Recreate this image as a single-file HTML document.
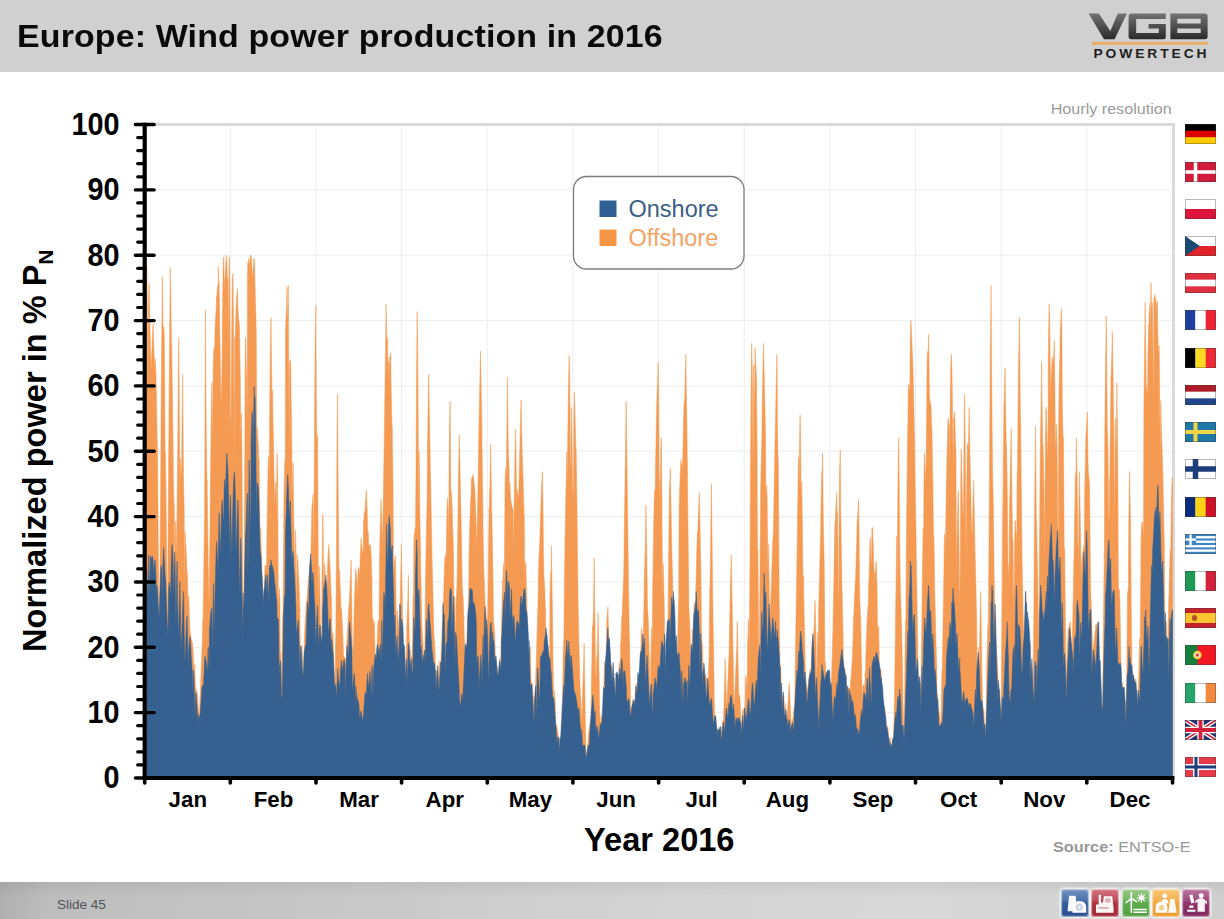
<!DOCTYPE html>
<html><head><meta charset="utf-8"><title>Europe: Wind power production in 2016</title>
<style>
html,body{margin:0;padding:0}
body{width:1224px;height:919px;position:relative;overflow:hidden;background:#fff;font-family:"Liberation Sans",sans-serif}
#hdr{position:absolute;left:0;top:0;width:1224px;height:71.5px;background:#d0d0d0}
#title{position:absolute;left:17px;top:19px;transform:scaleX(1.095);transform-origin:0 0;font-size:31px;font-weight:700;color:#0a0a0a;white-space:nowrap;line-height:36px;letter-spacing:0.12px}
#ftr{position:absolute;left:0;top:882px;width:1224px;height:37px;background:linear-gradient(180deg,rgba(0,0,0,.06) 0,rgba(0,0,0,0) 40%),linear-gradient(100deg,#aeaeae 0,#bdbdbd 4%,#c9c9c9 30%,#d4d4d4 55%,#d8d8d8 75%,#cfcfcf 100%)}
#slide{position:absolute;left:57px;top:897px;font-size:13.5px;color:#4e5658;line-height:16px}
svg text{font-family:"Liberation Sans",sans-serif}
.flag{display:block}
.ico{position:absolute;top:888.8px;width:28px;height:28px;border-radius:3.5px;box-shadow:0 0 0 1.2px rgba(255,255,255,.5) inset,0 0 2.5px 0.5px rgba(255,255,255,.95);overflow:hidden}
.ico i{position:absolute;left:0;top:0;width:28px;height:13px;background:linear-gradient(rgba(255,255,255,.28),rgba(255,255,255,.08))}
.ico svg{position:absolute;left:0;top:0}
</style></head><body>
<div id="hdr"></div>
<div id="title">Europe: Wind power production in 2016</div>
<svg id="logo" style="position:absolute;left:1085px;top:8px" width="130" height="58" viewBox="0 0 130 58">
<defs><linearGradient id="lg" x1="0" y1="0" x2="0" y2="1"><stop offset="0" stop-color="#727272"/><stop offset="1" stop-color="#2a2a2a"/></linearGradient></defs>
<path d="M3.6,5.6 H13.9 L25.3,23 L32.8,5.6 H41.9 L29.6,31.3 H19 Z" fill="url(#lg)"/>
<path d="M46.5,5.6 H80.8 V10.9 H51.2 V25 H73.8 V20.6 H63.6 V15.9 H80.8 V28.8 Q80.8,31.3 78.3,31.3 H46.5 Q43.6,31.3 43.6,28.5 V8.4 Q43.6,5.6 46.5,5.6 Z" fill="url(#lg)"/>
<path d="M85.4,5.6 H119.8 Q122.6,5.6 122.6,8.4 V28.5 Q122.6,31.3 119.8,31.3 H85.4 Z M92.3,10.8 V15.4 H115.7 V10.8 Z M92.3,20.6 V25.1 H115.7 V20.6 Z" fill="url(#lg)" fill-rule="evenodd"/>
<rect x="7" y="33.9" width="115.6" height="3" fill="#e9ae68"/>
<text x="8.5" y="50.2" font-size="12.4" font-weight="700" fill="#1e1e1e" letter-spacing="2.6" textLength="116" lengthAdjust="spacingAndGlyphs">POWERTECH</text>
</svg>
<svg id="chart" style="position:absolute;left:0;top:0" width="1224" height="919" viewBox="0 0 1224 919">
<line x1="230.3" y1="124.5" x2="230.3" y2="778.0" stroke="#ededed" stroke-width="1"/>
<line x1="316.0" y1="124.5" x2="316.0" y2="778.0" stroke="#ededed" stroke-width="1"/>
<line x1="401.6" y1="124.5" x2="401.6" y2="778.0" stroke="#ededed" stroke-width="1"/>
<line x1="487.3" y1="124.5" x2="487.3" y2="778.0" stroke="#ededed" stroke-width="1"/>
<line x1="572.9" y1="124.5" x2="572.9" y2="778.0" stroke="#ededed" stroke-width="1"/>
<line x1="658.6" y1="124.5" x2="658.6" y2="778.0" stroke="#ededed" stroke-width="1"/>
<line x1="744.2" y1="124.5" x2="744.2" y2="778.0" stroke="#ededed" stroke-width="1"/>
<line x1="829.9" y1="124.5" x2="829.9" y2="778.0" stroke="#ededed" stroke-width="1"/>
<line x1="915.5" y1="124.5" x2="915.5" y2="778.0" stroke="#ededed" stroke-width="1"/>
<line x1="1001.2" y1="124.5" x2="1001.2" y2="778.0" stroke="#ededed" stroke-width="1"/>
<line x1="1086.8" y1="124.5" x2="1086.8" y2="778.0" stroke="#ededed" stroke-width="1"/>
<line x1="144.7" y1="712.6" x2="1173.5" y2="712.6" stroke="#ededed" stroke-width="1"/>
<line x1="144.7" y1="647.3" x2="1173.5" y2="647.3" stroke="#ededed" stroke-width="1"/>
<line x1="144.7" y1="582.0" x2="1173.5" y2="582.0" stroke="#ededed" stroke-width="1"/>
<line x1="144.7" y1="516.6" x2="1173.5" y2="516.6" stroke="#ededed" stroke-width="1"/>
<line x1="144.7" y1="451.2" x2="1173.5" y2="451.2" stroke="#ededed" stroke-width="1"/>
<line x1="144.7" y1="385.9" x2="1173.5" y2="385.9" stroke="#ededed" stroke-width="1"/>
<line x1="144.7" y1="320.6" x2="1173.5" y2="320.6" stroke="#ededed" stroke-width="1"/>
<line x1="144.7" y1="255.2" x2="1173.5" y2="255.2" stroke="#ededed" stroke-width="1"/>
<line x1="144.7" y1="189.9" x2="1173.5" y2="189.9" stroke="#ededed" stroke-width="1"/>
<line x1="144.7" y1="124.5" x2="1175.0" y2="124.5" stroke="#d9d9d9" stroke-width="3"/>
<line x1="1173.5" y1="124.5" x2="1173.5" y2="778.0" stroke="#d9d9d9" stroke-width="3"/>
<defs><filter id="sf" x="0" y="0" width="1224" height="919" filterUnits="userSpaceOnUse"><feGaussianBlur stdDeviation="0.45"/></filter><clipPath id="cp"><rect x="144.7" y="124.5" width="1028.8" height="653.5"/></clipPath></defs>
<g clip-path="url(#cp)"><g filter="url(#sf)"><path d="M146.7,778.0L146.7,266.2L147.1,294.5L147.5,342.7L147.9,392.4L148.3,308.9L148.5,298.2L148.7,296.3L149.1,283.2L149.5,306.4L149.9,322.9L150.3,341.5L150.7,357.2L150.7,353.5L151.1,369.2L151.5,361.5L151.9,351.6L152.3,337.1L152.7,329.4L153.1,323.7L153.5,336.4L153.9,350.3L154.3,359.2L154.7,370.0L155.1,361.3L155.2,359.0L155.5,365.3L155.9,372.9L156.3,388.4L156.7,409.4L157.1,434.1L157.5,453.8L157.7,462.8L157.9,494.4L158.3,546.8L158.7,598.7L158.9,621.0L159.1,647.3L159.5,610.7L159.9,571.5L160.3,530.7L160.7,479.5L160.7,480.1L161.1,418.5L161.5,357.8L161.9,320.1L162.2,276.6L162.3,279.5L162.7,312.7L163.1,329.9L163.5,330.7L163.8,326.2L163.9,328.5L164.3,334.8L164.7,378.6L165.1,455.1L165.5,453.0L165.6,462.7L165.9,485.4L166.3,521.6L166.7,556.5L167.1,596.1L167.4,628.1L167.5,616.7L167.9,562.5L168.3,508.4L168.7,454.9L168.9,425.4L169.1,399.5L169.5,350.8L169.9,301.4L170.2,267.4L170.3,275.0L170.7,295.9L171.1,318.2L171.5,342.0L171.7,345.3L171.9,358.1L172.3,387.7L172.7,414.3L173.1,447.0L173.5,484.1L173.5,486.4L173.9,499.3L174.3,508.4L174.7,586.1L175.1,554.9L175.5,521.3L175.9,525.5L175.9,530.0L176.3,558.7L176.7,535.8L177.1,507.8L177.5,468.5L177.8,438.7L177.9,422.7L178.3,375.7L178.7,337.5L178.7,338.9L179.1,380.1L179.5,431.4L179.9,491.9L179.9,492.6L180.3,458.6L180.7,467.5L181.1,471.6L181.4,479.7L181.5,475.0L181.9,439.0L182.3,403.8L182.6,374.0L182.7,383.6L183.1,438.3L183.5,473.6L183.9,497.0L184.2,510.3L184.3,529.9L184.7,589.2L185.1,531.6L185.5,542.6L185.9,546.0L186.3,554.3L186.7,564.0L187.1,572.3L187.2,573.7L187.5,576.8L187.9,603.4L188.3,598.4L188.7,595.5L189.1,606.8L189.5,617.7L189.9,628.0L190.3,635.9L190.3,636.8L190.7,634.6L191.1,638.7L191.5,639.1L191.9,640.9L192.3,642.7L192.7,645.0L193.1,652.2L193.5,657.8L193.9,666.2L194.3,681.0L194.7,664.8L194.8,666.8L195.1,676.4L195.5,687.8L195.9,698.2L196.3,688.9L196.7,691.7L197.1,693.2L197.5,695.2L197.9,703.8L198.3,706.8L198.7,711.2L199.1,716.8L199.4,720.5L199.5,718.5L199.9,700.8L200.3,693.0L200.7,684.4L201.1,671.0L201.5,661.6L201.9,651.7L202.3,640.4L202.4,638.6L202.7,620.8L203.1,618.3L203.5,591.1L203.9,561.7L204.3,532.7L204.6,515.4L204.7,491.7L205.1,401.7L205.5,310.1L205.5,311.6L205.9,386.6L206.3,436.9L206.7,466.8L207.0,483.2L207.1,480.3L207.5,508.4L207.9,537.4L208.3,567.3L208.7,592.4L208.8,598.6L209.1,597.5L209.5,567.2L209.9,535.9L210.3,497.2L210.7,461.3L210.7,458.7L211.1,428.0L211.5,400.1L211.9,382.0L212.3,407.9L212.5,425.5L212.7,440.6L213.1,374.3L213.5,357.3L213.9,347.1L214.3,349.0L214.6,352.8L214.7,346.7L215.1,328.1L215.5,317.4L215.9,313.3L216.3,306.8L216.7,295.4L216.8,300.8L217.1,294.5L217.5,285.5L217.9,298.0L218.3,265.9L218.3,267.1L218.7,283.1L219.1,282.5L219.5,305.3L219.8,335.0L219.9,336.9L220.3,360.7L220.7,381.4L221.1,401.7L221.5,400.8L221.6,391.5L221.9,374.2L222.3,336.3L222.7,296.5L223.1,271.3L223.5,257.6L223.8,256.8L223.9,262.0L224.3,293.3L224.7,278.1L225.0,282.4L225.1,278.5L225.5,269.8L225.9,261.1L226.2,255.2L226.3,256.5L226.7,261.1L227.1,269.2L227.5,279.0L227.7,285.7L227.9,279.3L228.3,350.5L228.7,292.6L229.1,262.1L229.2,256.8L229.5,260.3L229.9,297.8L230.3,409.7L230.7,428.2L231.1,410.6L231.1,406.8L231.5,356.1L231.9,309.9L232.3,279.2L232.7,275.7L232.9,273.5L233.1,284.1L233.5,322.0L233.9,383.4L234.3,467.5L234.7,337.4L235.0,339.6L235.1,340.3L235.5,328.4L235.9,314.8L236.3,305.0L236.7,295.7L237.1,292.3L237.5,288.7L237.5,289.6L237.9,306.1L238.3,315.3L238.7,319.4L239.1,322.8L239.3,323.3L239.5,329.7L239.9,353.2L240.3,379.2L240.7,434.8L241.1,425.6L241.4,413.3L241.5,415.8L241.9,448.0L242.3,507.2L242.7,568.1L243.0,606.5L243.1,617.2L243.5,652.5L243.9,650.4L243.9,644.1L244.3,564.1L244.7,471.6L245.1,372.9L245.1,370.2L245.5,337.5L245.9,345.4L246.3,368.2L246.6,383.5L246.7,388.6L247.1,425.9L247.5,274.1L247.9,261.7L248.3,263.2L248.4,267.2L248.7,258.3L249.1,262.3L249.5,264.7L249.9,262.5L250.3,257.2L250.6,255.2L250.7,255.4L251.1,255.7L251.5,259.9L251.9,268.2L252.3,275.2L252.7,276.7L252.7,275.1L253.1,269.5L253.5,265.3L253.9,258.1L254.3,259.7L254.7,265.9L254.8,276.9L255.1,286.5L255.5,304.4L255.9,313.3L256.3,336.1L256.7,425.5L256.7,426.3L257.1,427.4L257.5,431.7L257.9,439.7L258.3,443.9L258.7,458.1L258.8,458.9L259.1,460.0L259.5,494.5L259.9,530.3L260.3,558.7L260.7,527.6L261.1,543.5L261.5,559.1L261.8,571.7L261.9,572.3L262.3,584.1L262.7,589.3L263.1,610.3L263.4,610.1L263.5,609.7L263.9,597.5L264.3,587.1L264.7,573.6L265.1,565.1L265.5,567.6L265.9,565.5L266.3,569.3L266.4,570.7L266.7,550.8L267.1,524.6L267.5,500.3L267.9,475.3L268.3,461.2L268.7,455.8L269.1,480.5L269.5,441.4L269.5,439.0L269.9,391.1L270.3,353.1L270.7,333.1L271.0,317.7L271.1,325.7L271.5,356.6L271.9,393.7L272.3,436.3L272.5,390.3L272.7,397.5L273.1,421.6L273.5,444.2L273.9,464.7L274.3,485.5L274.6,505.6L274.7,503.3L275.1,493.9L275.5,489.5L275.9,481.1L276.3,520.3L276.7,476.1L277.1,453.2L277.1,455.1L277.5,474.2L277.9,524.4L278.3,594.7L278.7,605.4L279.1,595.9L279.5,589.4L279.5,588.6L279.9,600.6L280.3,658.6L280.7,652.5L281.1,666.4L281.5,682.2L281.6,686.5L281.9,663.9L282.3,632.1L282.7,615.8L283.1,609.2L283.5,551.8L283.8,512.2L283.9,503.2L284.3,481.4L284.7,464.2L285.1,458.6L285.3,453.9L285.5,334.0L285.9,320.1L286.3,310.2L286.7,297.4L287.1,287.8L287.1,287.2L287.5,317.5L287.9,316.3L288.3,285.5L288.7,351.4L289.1,426.5L289.3,454.0L289.5,362.0L289.9,361.2L290.3,359.6L290.7,366.6L291.1,396.5L291.4,416.5L291.5,425.6L291.9,450.9L292.3,497.6L292.7,480.0L293.1,462.5L293.5,495.4L293.8,518.8L293.9,524.1L294.3,546.4L294.7,566.3L295.1,574.9L295.5,529.8L295.9,538.0L296.3,574.4L296.7,602.5L296.9,615.2L297.1,554.2L297.5,558.9L297.9,561.4L298.3,570.5L298.7,579.6L299.1,586.7L299.5,600.1L299.9,611.5L299.9,609.0L300.3,663.2L300.7,657.0L301.1,651.8L301.5,646.4L301.9,644.9L302.3,651.7L302.7,668.7L303.0,678.9L303.1,680.1L303.5,683.2L303.9,685.6L304.3,640.0L304.7,631.6L305.1,622.9L305.5,615.6L305.9,608.6L306.0,607.4L306.3,602.8L306.7,599.9L307.1,598.3L307.5,591.1L307.9,586.4L308.3,582.2L308.7,576.7L309.1,574.3L309.5,569.5L309.9,564.5L310.3,578.8L310.6,573.2L310.7,562.7L311.1,545.5L311.5,526.6L311.9,505.6L312.3,503.9L312.7,500.0L313.1,494.4L313.5,566.7L313.6,555.9L313.9,523.8L314.3,466.7L314.7,402.9L315.1,350.8L315.5,328.0L315.8,305.5L315.9,324.8L316.3,395.3L316.7,432.5L317.1,443.0L317.3,445.1L317.5,435.4L317.9,498.9L318.3,563.7L318.7,603.9L319.1,587.1L319.1,587.2L319.5,566.5L319.9,587.0L320.3,616.3L320.7,647.7L321.1,673.4L321.2,680.7L321.5,661.9L321.9,589.5L322.3,552.9L322.7,518.8L322.8,514.1L323.1,525.3L323.5,569.9L323.9,580.5L324.3,579.0L324.7,563.6L325.1,568.8L325.5,593.5L325.8,609.0L325.9,614.4L326.3,625.2L326.7,640.6L327.1,587.1L327.5,570.0L327.9,557.9L328.3,550.6L328.7,547.8L328.9,544.6L329.1,549.7L329.5,557.8L329.9,566.1L330.3,572.3L330.7,584.0L331.1,592.8L331.5,599.4L331.9,630.2L331.9,629.4L332.3,632.7L332.7,632.3L333.1,637.3L333.5,649.6L333.9,663.0L334.3,677.9L334.7,691.3L334.9,697.4L335.1,682.7L335.5,648.9L335.9,625.8L336.3,565.8L336.5,541.0L336.7,501.3L337.1,435.3L337.4,393.8L337.5,406.2L337.9,448.1L338.3,499.4L338.6,542.5L338.7,549.6L339.1,591.2L339.5,569.8L339.9,578.3L340.3,590.3L340.7,599.9L341.0,611.9L341.1,608.1L341.5,609.9L341.9,614.1L342.3,623.4L342.7,632.7L343.1,644.3L343.5,655.1L343.9,656.5L344.3,657.2L344.7,658.2L344.7,657.0L345.0,658.6L345.1,659.6L345.5,658.5L345.9,662.2L346.3,662.9L346.7,643.8L347.1,638.2L347.5,631.3L347.9,624.3L348.0,622.0L348.3,616.4L348.7,610.0L349.1,603.5L349.5,599.1L349.9,588.8L350.3,579.0L350.7,570.0L351.1,559.8L351.1,560.4L351.5,587.0L351.9,614.2L352.3,642.1L352.6,663.2L352.7,660.8L353.1,648.8L353.5,642.8L353.9,623.3L354.3,607.8L354.7,594.1L355.1,583.3L355.5,573.1L355.7,569.0L355.9,569.4L356.3,572.4L356.7,576.8L357.1,581.9L357.5,594.1L357.8,586.3L357.9,580.7L358.3,567.4L358.7,569.0L359.1,570.2L359.5,573.9L359.9,568.1L360.2,555.4L360.3,555.4L360.7,547.5L361.1,538.2L361.5,543.0L361.9,546.4L362.3,553.2L362.7,551.1L363.1,551.9L363.3,548.3L363.5,522.6L363.9,518.9L364.3,512.3L364.7,514.3L365.1,509.3L365.5,500.4L365.9,496.2L366.3,490.1L366.3,489.8L366.7,499.9L367.1,509.2L367.5,521.1L367.8,533.2L367.9,531.3L368.3,533.2L368.7,544.8L369.1,544.9L369.5,546.2L369.9,547.2L370.3,544.1L370.7,547.8L370.9,552.3L371.1,553.9L371.5,565.2L371.9,578.3L372.3,619.0L372.7,617.8L373.1,619.2L373.5,623.4L373.9,625.6L373.9,623.5L374.3,621.4L374.7,637.5L375.1,654.3L375.5,664.2L375.9,659.7L376.3,655.2L376.7,654.7L377.0,654.2L377.1,648.0L377.5,631.7L377.9,622.8L378.3,620.7L378.7,620.2L379.1,621.4L379.1,618.8L379.5,560.1L379.9,542.2L380.3,523.7L380.7,508.4L380.9,498.9L381.1,503.4L381.5,514.8L381.9,526.1L382.3,541.2L382.5,547.1L382.7,532.9L383.1,513.6L383.5,486.5L383.9,460.9L384.0,457.5L384.3,433.2L384.7,407.2L385.1,379.4L385.5,352.4L385.9,321.6L386.1,304.0L386.3,314.9L386.7,332.6L387.1,342.4L387.5,338.0L387.6,348.5L387.9,358.0L388.3,385.2L388.7,361.7L389.1,366.7L389.2,362.8L389.5,356.9L389.9,358.9L390.3,356.2L390.7,352.7L390.7,353.6L391.1,383.5L391.5,405.2L391.9,420.7L392.3,430.0L392.5,448.9L392.7,459.9L393.1,494.3L393.5,578.5L393.9,572.0L394.3,561.1L394.3,562.4L394.7,560.9L395.1,556.2L395.5,555.5L395.9,590.9L396.3,621.0L396.7,649.2L396.8,655.1L397.1,610.5L397.5,614.0L397.9,617.2L398.3,623.0L398.7,628.9L399.1,634.2L399.2,637.4L399.5,645.0L399.9,618.3L400.3,595.0L400.7,575.0L401.1,558.7L401.4,544.6L401.5,556.9L401.9,578.6L402.3,595.9L402.7,627.6L402.9,644.4L403.1,655.3L403.5,661.8L403.9,655.4L404.3,653.0L404.7,646.9L405.1,662.8L405.5,681.3L405.9,676.9L405.9,677.4L406.3,657.1L406.7,635.7L407.1,618.0L407.5,609.1L407.9,596.0L408.3,578.0L408.4,575.1L408.7,599.8L409.1,628.2L409.5,645.2L409.6,649.0L409.9,649.1L410.3,649.7L410.7,675.2L411.1,655.2L411.5,658.4L411.9,662.9L412.0,664.4L412.3,647.8L412.7,625.4L413.1,597.6L413.5,594.1L413.9,541.2L414.3,534.3L414.4,536.6L414.7,532.8L415.1,527.8L415.5,530.0L415.9,484.0L416.0,473.2L416.3,415.4L416.7,359.7L417.1,318.4L417.2,311.6L417.5,333.2L417.9,377.9L418.3,438.4L418.4,459.0L418.7,516.5L419.1,451.6L419.5,483.1L419.9,515.5L419.9,516.8L420.3,536.0L420.7,565.4L421.1,588.4L421.5,605.3L421.8,622.7L421.9,625.4L422.3,632.7L422.7,639.0L423.1,644.6L423.5,683.4L423.9,668.8L424.2,663.7L424.3,660.0L424.7,662.0L425.1,620.7L425.5,585.3L425.9,556.7L426.3,537.7L426.6,524.3L426.7,520.0L427.1,500.1L427.5,449.0L427.9,423.8L427.9,420.2L428.3,398.8L428.7,377.5L428.8,374.0L429.1,395.6L429.5,418.7L429.9,443.2L430.0,445.0L430.3,467.1L430.7,483.3L431.1,506.4L431.5,528.5L431.8,542.0L431.9,549.7L432.3,566.9L432.7,582.2L433.1,601.1L433.5,618.2L433.9,630.3L433.9,633.9L434.3,639.1L434.7,646.0L435.1,652.5L435.5,686.6L435.9,678.2L436.3,673.5L436.4,670.4L436.7,670.6L437.1,681.8L437.5,686.0L437.9,681.5L438.3,673.7L438.7,667.6L439.1,660.9L439.5,667.5L439.9,679.9L440.3,663.9L440.7,661.6L440.9,660.5L441.1,655.5L441.5,646.4L441.9,633.2L442.3,622.1L442.7,613.9L443.1,602.8L443.1,601.1L443.5,601.4L443.9,587.0L444.3,572.8L444.7,559.7L445.1,554.9L445.5,555.5L445.5,555.4L445.9,564.4L446.3,547.0L446.7,525.8L447.1,505.1L447.5,497.8L447.9,508.6L448.0,508.0L448.3,515.1L448.7,545.4L449.1,468.7L449.5,424.7L449.9,413.0L450.1,401.4L450.3,421.9L450.7,470.9L451.1,525.6L451.5,491.9L451.6,498.3L451.9,502.1L452.3,507.7L452.7,527.3L453.1,538.7L453.4,548.1L453.5,555.2L453.9,612.5L454.3,605.7L454.7,597.2L455.1,624.2L455.3,638.7L455.5,642.7L455.9,607.9L456.3,597.2L456.7,590.9L457.1,580.1L457.1,578.2L457.5,554.0L457.9,523.3L458.3,490.1L458.3,485.8L458.7,464.5L459.1,442.3L459.2,434.9L459.5,447.7L459.9,464.0L460.3,482.1L460.4,488.0L460.7,503.5L461.1,518.1L461.5,541.1L461.9,563.4L462.3,592.1L462.3,588.2L462.7,593.2L463.1,595.5L463.5,608.4L463.9,621.8L464.3,636.7L464.4,639.8L464.7,641.9L465.1,649.5L465.5,661.4L465.9,656.9L466.3,654.5L466.7,650.2L466.8,645.1L467.1,634.7L467.5,623.5L467.9,612.8L468.3,602.3L468.7,591.8L469.1,551.8L469.3,542.7L469.5,535.0L469.9,521.0L470.3,509.7L470.7,500.7L471.1,494.2L471.4,479.3L471.5,479.1L471.9,478.3L472.3,476.7L472.7,475.9L472.9,474.5L473.1,475.4L473.5,476.8L473.9,480.8L474.3,486.2L474.7,488.7L475.1,492.4L475.1,495.9L475.5,509.0L475.9,517.3L476.3,530.1L476.7,542.4L476.9,546.2L477.1,533.9L477.5,512.1L477.9,490.0L478.3,468.3L478.4,461.4L478.7,439.7L479.1,419.6L479.5,399.1L479.6,391.9L479.9,379.8L480.3,361.5L480.5,351.2L480.7,359.9L481.1,383.4L481.5,405.8L481.8,420.5L481.9,430.2L482.3,465.4L482.7,491.3L483.1,529.2L483.3,542.7L483.5,555.0L483.9,572.0L484.3,581.3L484.7,593.3L485.1,605.5L485.1,604.3L485.5,609.3L485.9,609.6L486.3,617.8L486.7,627.2L487.1,625.5L487.5,624.0L487.6,626.0L487.9,598.9L488.3,569.5L488.7,536.1L489.1,509.1L489.1,511.7L489.5,499.9L489.9,484.7L490.3,463.1L490.6,444.1L490.7,450.0L491.1,472.9L491.5,496.8L491.8,517.3L491.9,518.5L492.3,537.7L492.7,562.5L493.1,583.9L493.5,617.8L493.6,622.6L493.9,623.4L494.3,627.7L494.7,634.9L495.1,649.0L495.5,661.4L495.8,666.1L495.9,669.7L496.3,664.0L496.7,663.5L497.1,666.1L497.5,669.9L497.9,700.1L498.3,692.9L498.7,682.7L499.1,672.6L499.5,665.9L499.9,658.0L500.3,675.5L500.3,676.8L500.7,682.5L501.1,646.6L501.5,627.8L501.9,607.7L502.3,588.4L502.7,578.8L502.8,578.9L503.1,573.0L503.5,563.7L503.9,614.3L504.3,573.8L504.7,528.5L504.9,504.6L505.1,481.4L505.5,468.2L505.9,477.8L506.3,471.5L506.4,465.5L506.7,448.7L507.1,410.6L507.4,377.1L507.5,389.7L507.9,420.0L508.3,445.5L508.6,461.4L508.7,459.1L509.1,471.0L509.5,493.6L509.9,482.6L510.3,493.0L510.7,499.7L511.0,501.8L511.1,501.7L511.5,503.7L511.9,505.4L512.3,508.5L512.7,507.6L513.1,511.8L513.4,549.5L513.5,547.8L513.9,524.6L514.3,497.1L514.7,475.8L514.7,473.4L515.1,450.3L515.5,432.0L515.6,428.9L515.9,444.9L516.3,472.6L516.7,503.8L516.8,511.6L517.1,489.5L517.5,491.8L517.9,495.2L518.3,496.2L518.6,499.3L518.7,494.0L519.1,479.3L519.5,462.1L519.9,446.5L520.1,437.8L520.3,428.9L520.7,414.0L521.1,399.9L521.1,401.6L521.5,418.6L521.9,437.8L522.3,457.9L522.3,456.8L522.7,467.2L523.1,477.1L523.5,496.4L523.9,506.9L524.1,514.2L524.3,518.7L524.7,577.5L525.1,567.2L525.5,561.6L525.9,563.8L526.2,578.5L526.3,583.3L526.7,598.5L527.1,617.4L527.5,630.0L527.9,641.2L528.3,674.7L528.7,667.7L528.7,666.8L529.1,660.8L529.5,655.8L529.9,649.3L530.3,646.8L530.7,668.6L531.1,686.6L531.4,699.5L531.5,702.9L531.9,682.0L532.3,686.3L532.7,691.8L533.1,695.6L533.5,698.8L533.9,707.6L533.9,706.1L534.3,702.5L534.7,694.9L535.1,689.6L535.5,685.9L535.9,670.4L536.3,662.0L536.3,661.9L536.7,645.7L537.1,632.4L537.5,620.2L537.9,607.6L538.3,582.0L538.4,574.7L538.7,563.7L539.1,553.0L539.5,547.9L539.9,537.4L540.3,523.2L540.6,514.3L540.7,510.2L541.1,498.5L541.5,488.3L541.9,481.1L542.3,473.3L542.4,471.5L542.7,489.4L543.1,512.5L543.5,557.0L543.9,573.6L543.9,574.0L544.3,582.5L544.7,588.3L545.1,600.7L545.5,611.7L545.9,637.5L546.0,649.4L546.3,658.7L546.7,640.1L547.1,644.9L547.5,643.9L547.9,645.9L548.3,650.8L548.7,653.2L549.1,656.6L549.5,659.8L549.7,661.8L549.9,619.4L550.0,594.5L550.3,585.5L550.7,572.4L551.1,574.2L551.5,547.0L551.5,545.7L551.9,577.4L552.3,602.7L552.7,627.7L553.0,661.9L553.1,666.3L553.5,685.4L553.9,702.3L554.3,690.6L554.7,697.5L555.1,701.1L555.5,715.5L555.9,729.4L556.1,725.6L556.3,726.6L556.7,725.1L557.1,728.0L557.5,730.3L557.9,731.6L558.3,737.1L558.5,738.0L558.7,740.2L559.1,738.2L559.5,749.8L559.9,746.5L560.3,743.8L560.7,742.7L560.7,740.9L561.1,735.3L561.5,731.4L561.9,721.3L562.3,702.6L562.7,689.0L562.8,684.0L563.1,658.1L563.5,645.8L563.9,636.0L564.3,592.4L564.6,566.0L564.7,564.9L565.1,535.7L565.5,514.3L565.9,492.0L566.3,476.1L566.7,457.6L566.8,452.2L567.1,484.0L567.5,457.6L567.9,425.4L568.3,397.1L568.7,374.0L569.1,358.5L569.2,355.6L569.5,368.8L569.9,397.4L570.3,467.7L570.7,465.6L571.1,438.3L571.3,423.2L571.5,407.5L571.9,435.2L572.3,463.6L572.7,491.0L573.1,496.4L573.1,494.4L573.5,481.3L573.9,408.4L574.3,393.9L574.4,392.2L574.7,401.9L575.1,417.6L575.5,435.0L575.9,445.9L576.2,450.4L576.3,458.3L576.7,484.9L577.1,516.7L577.5,551.5L577.9,589.0L578.0,599.4L578.3,612.7L578.7,632.5L579.1,650.0L579.5,667.5L579.9,683.2L579.9,683.3L580.3,691.7L580.7,699.5L581.1,705.1L581.5,714.7L581.9,718.4L582.0,718.3L582.3,704.9L582.7,689.7L583.1,678.6L583.5,667.3L583.9,653.5L584.1,643.2L584.3,656.6L584.7,682.1L585.1,706.7L585.5,729.3L585.9,751.7L585.9,754.1L586.3,754.7L586.7,751.5L587.1,750.6L587.5,747.2L587.9,742.6L588.1,741.8L588.3,737.1L588.7,732.2L589.1,729.7L589.5,727.5L589.9,723.9L590.2,724.8L590.3,721.2L590.7,724.2L591.1,704.8L591.5,682.1L591.9,658.4L592.3,630.4L592.6,626.4L592.7,628.6L593.1,621.7L593.5,606.6L593.9,581.5L594.2,557.9L594.3,569.0L594.7,602.6L595.1,635.1L595.5,666.1L595.7,683.7L595.9,676.7L596.3,670.9L596.7,660.1L597.1,652.9L597.2,651.7L597.5,640.3L597.9,623.3L598.1,612.7L598.3,625.1L598.7,651.8L599.1,675.3L599.5,702.6L599.6,712.8L599.9,713.5L600.3,731.2L600.7,723.7L601.1,717.6L601.5,715.1L601.8,719.2L601.9,722.1L602.3,722.5L602.7,722.8L603.1,708.9L603.5,694.9L603.9,684.2L604.2,673.7L604.3,668.9L604.7,661.2L605.1,662.6L605.5,664.0L605.9,665.3L606.3,643.5L606.4,640.6L606.7,623.2L607.1,617.5L607.5,613.3L607.9,606.6L607.9,607.4L608.3,620.9L608.7,635.7L609.1,638.3L609.5,643.8L609.7,651.9L609.9,652.8L610.3,667.2L610.7,679.2L611.1,664.7L611.5,664.5L611.9,666.4L612.3,670.7L612.4,673.4L612.7,674.9L613.1,711.3L613.5,699.1L613.9,690.4L614.3,678.7L614.7,677.6L615.1,685.4L615.5,694.6L615.5,694.4L615.9,700.4L616.3,708.7L616.7,717.2L617.1,689.5L617.5,687.9L617.9,686.1L618.3,683.6L618.5,680.9L618.7,674.4L619.1,665.3L619.5,663.5L619.9,660.7L620.3,660.7L620.7,643.7L620.7,645.6L621.1,636.2L621.5,623.9L621.9,615.6L622.2,613.7L622.3,609.7L622.7,599.5L623.1,590.1L623.5,578.3L623.7,575.2L623.9,563.3L624.3,526.7L624.7,502.7L625.1,476.0L625.2,469.7L625.5,451.5L625.9,420.3L626.1,401.3L626.3,412.8L626.7,442.0L627.1,470.1L627.1,469.7L627.5,504.2L627.9,535.2L628.3,565.1L628.6,591.5L628.7,594.6L629.1,620.7L629.5,641.8L629.9,665.6L630.3,685.0L630.7,709.8L630.7,711.2L631.1,708.1L631.5,706.4L631.9,729.7L632.3,714.0L632.7,698.8L633.1,703.4L633.5,709.8L633.8,713.2L633.9,714.6L634.3,721.6L634.7,708.0L635.1,699.0L635.5,689.9L635.9,687.1L636.3,688.5L636.7,684.6L636.8,682.8L637.1,687.1L637.5,693.7L637.9,700.3L638.3,710.3L638.7,714.9L638.9,721.7L639.1,717.0L639.5,698.9L639.9,685.6L640.3,669.0L640.7,657.0L641.1,639.2L641.4,627.9L641.5,628.6L641.9,631.7L642.3,635.0L642.7,643.4L643.1,643.4L643.2,643.8L643.5,626.6L643.9,606.5L644.3,581.1L644.7,567.4L644.7,569.3L645.1,552.4L645.5,532.1L645.9,507.9L645.9,504.9L646.3,525.8L646.7,549.5L647.1,579.3L647.5,606.9L647.5,607.9L647.9,611.8L648.3,620.6L648.7,633.5L649.1,648.2L649.5,663.6L649.9,700.7L649.9,701.8L650.3,689.2L650.7,667.4L651.1,648.7L651.5,627.4L651.9,635.8L652.0,640.1L652.3,641.0L652.7,587.5L653.1,564.9L653.5,533.8L653.9,514.0L654.2,498.1L654.3,498.0L654.7,489.9L655.1,493.8L655.5,468.1L655.9,447.5L656.0,441.6L656.3,425.0L656.7,406.9L657.1,394.5L657.5,385.6L657.9,372.1L658.1,361.7L658.3,370.5L658.7,394.5L659.1,467.3L659.5,490.4L659.7,497.1L659.9,488.6L660.3,473.8L660.7,453.1L661.1,437.5L661.2,440.5L661.5,445.1L661.9,502.8L662.3,551.9L662.7,601.2L662.7,600.8L663.1,563.5L663.5,575.1L663.9,591.8L664.3,606.7L664.5,625.6L664.7,636.2L665.1,664.5L665.5,685.5L665.9,693.5L666.3,708.4L666.4,711.9L666.7,689.5L667.1,669.0L667.5,648.5L667.9,630.1L668.2,601.8L668.3,592.8L668.7,552.1L669.1,518.0L669.4,490.7L669.5,487.7L669.9,478.6L670.3,468.8L670.3,468.3L670.7,490.8L671.1,509.5L671.5,533.8L671.5,536.2L671.9,551.6L672.3,569.3L672.7,582.5L673.1,615.1L673.4,613.2L673.5,616.0L673.9,632.1L674.3,645.5L674.7,670.9L675.1,696.5L675.5,720.7L675.5,719.2L675.9,712.6L676.3,704.9L676.7,683.5L677.1,662.9L677.3,657.8L677.5,648.0L677.9,629.9L678.3,611.4L678.7,598.4L679.1,511.2L679.2,505.3L679.5,494.3L679.9,482.9L680.3,473.0L680.7,465.5L681.0,459.6L681.1,465.0L681.5,464.2L681.9,463.3L682.3,470.5L682.7,460.1L682.8,456.5L683.1,441.8L683.5,421.5L683.9,408.2L684.3,401.8L684.3,406.6L684.7,397.2L685.1,385.0L685.5,368.5L685.9,354.1L685.9,358.1L686.3,387.7L686.7,412.9L687.1,434.9L687.1,440.3L687.5,474.4L687.9,517.6L688.3,551.0L688.7,587.4L688.9,608.0L689.1,610.7L689.5,619.7L689.9,628.6L690.3,642.7L690.7,663.3L690.7,664.4L691.1,696.9L691.5,676.2L691.9,654.5L692.3,629.4L692.7,648.9L693.1,631.6L693.2,631.8L693.5,622.7L693.9,611.3L694.3,602.4L694.7,606.6L695.1,605.9L695.5,607.8L695.6,607.4L695.9,585.8L696.3,571.6L696.7,552.9L697.1,540.3L697.4,532.3L697.5,536.4L697.9,527.2L698.3,517.2L698.7,506.8L699.1,496.7L699.3,492.7L699.5,504.6L699.9,521.9L700.3,541.5L700.7,562.9L700.8,565.0L701.1,589.2L701.5,635.3L701.9,641.2L702.3,644.6L702.7,658.2L702.9,673.1L703.1,675.4L703.5,684.8L703.9,691.2L704.3,697.4L704.7,674.9L705.1,676.2L705.5,673.9L705.9,679.4L706.0,677.7L706.3,678.8L706.7,677.2L707.1,695.2L707.5,690.7L707.9,687.2L708.3,679.4L708.4,680.0L708.7,666.8L709.1,657.0L709.5,615.4L709.9,589.4L709.9,591.0L710.3,565.6L710.7,537.7L711.1,508.1L711.4,483.6L711.5,489.1L711.9,524.3L712.3,558.9L712.7,591.6L712.7,593.2L713.1,621.2L713.5,646.0L713.9,671.8L714.3,702.3L714.5,714.0L714.7,714.6L715.1,716.3L715.5,717.7L715.9,720.5L716.3,725.1L716.7,725.8L717.1,727.7L717.5,732.0L717.5,732.6L717.9,732.6L718.3,732.2L718.7,732.9L719.1,730.5L719.5,732.2L719.9,737.3L720.3,731.0L720.6,727.1L720.7,726.7L721.1,729.0L721.5,731.3L721.9,735.6L722.3,723.2L722.7,721.8L723.1,720.5L723.5,719.7L723.6,720.0L723.9,709.2L724.3,692.9L724.7,677.6L725.1,660.3L725.1,658.4L725.5,670.8L725.9,684.5L726.3,698.2L726.7,710.8L726.7,708.0L727.1,700.4L727.5,687.6L727.9,679.8L728.3,667.6L728.7,662.3L729.1,655.0L729.1,655.8L729.5,633.2L729.9,612.0L730.3,591.5L730.3,588.2L730.7,574.9L731.1,559.7L731.2,554.8L731.5,568.9L731.9,590.3L732.3,611.6L732.5,620.6L732.7,636.1L733.1,655.9L733.5,675.7L733.9,696.1L734.3,711.2L734.3,710.1L734.7,699.6L735.1,687.4L735.5,677.0L735.9,667.6L736.3,659.2L736.4,653.3L736.7,649.5L737.1,629.2L737.3,621.8L737.5,629.8L737.9,652.0L738.3,674.1L738.7,693.0L738.9,696.4L739.1,696.7L739.5,695.1L739.9,695.9L740.3,705.8L740.7,719.4L741.1,728.1L741.3,731.6L741.5,735.3L741.9,728.2L742.3,719.3L742.7,709.4L743.1,709.0L743.5,714.5L743.7,718.1L743.9,718.8L744.3,720.9L744.7,722.7L745.1,703.9L745.5,678.2L745.9,676.6L745.9,675.6L746.3,679.3L746.7,684.6L747.1,691.3L747.5,650.6L747.9,634.7L748.0,631.9L748.3,620.1L748.7,619.2L749.1,658.8L749.2,655.8L749.5,621.9L749.9,571.2L750.3,501.9L750.4,476.7L750.7,436.4L751.1,389.2L751.5,353.5L751.6,343.4L751.9,349.5L752.3,375.4L752.7,420.3L753.1,484.3L753.5,364.4L753.5,365.2L753.9,377.9L754.3,395.0L754.7,409.0L754.7,406.3L755.0,347.7L755.1,349.7L755.5,358.0L755.9,366.5L756.3,372.6L756.5,379.2L756.7,401.0L757.1,445.2L757.5,558.7L757.9,550.2L758.0,561.7L758.3,595.6L758.7,641.1L759.1,680.5L759.3,695.0L759.5,632.3L759.9,583.4L760.3,530.7L760.5,507.4L760.7,487.1L761.1,468.7L761.5,453.5L761.9,435.4L762.0,431.8L762.3,401.0L762.7,381.5L763.1,362.5L763.5,344.7L763.5,343.4L763.9,359.7L764.3,378.0L764.7,397.6L765.1,412.3L765.1,415.7L765.5,432.5L765.9,500.4L766.3,488.9L766.6,486.7L766.7,485.5L767.1,495.7L767.5,533.1L767.9,569.4L768.3,576.1L768.4,568.3L768.7,544.3L769.1,578.0L769.5,611.9L769.9,644.5L770.2,615.5L770.3,612.7L770.7,601.9L771.1,591.7L771.5,581.2L771.9,566.6L772.1,562.3L772.3,555.3L772.7,542.7L773.1,537.0L773.5,530.3L773.9,502.4L773.9,499.6L774.3,480.4L774.7,459.2L775.1,440.3L775.5,418.5L775.7,411.1L775.9,399.0L776.3,382.9L776.7,365.0L776.9,354.1L777.1,366.4L777.5,430.0L777.9,450.8L778.1,455.6L778.3,464.1L778.7,522.2L779.1,587.8L779.4,624.9L779.5,636.9L779.9,665.2L780.3,665.0L780.7,666.1L781.1,678.2L781.2,685.4L781.5,693.9L781.9,704.3L782.3,697.7L782.7,695.5L783.1,694.4L783.5,694.9L783.9,702.2L783.9,703.4L784.3,706.7L784.7,711.9L785.1,721.3L785.5,703.4L785.9,713.8L786.3,725.1L786.7,736.0L787.0,717.5L787.1,715.6L787.5,710.6L787.9,704.6L788.3,697.7L788.7,690.6L789.1,683.0L789.1,682.8L789.5,689.5L789.9,696.9L790.3,706.5L790.7,714.3L791.1,721.5L791.5,728.8L791.6,729.6L791.9,726.3L792.3,724.4L792.7,718.9L793.1,717.8L793.5,714.1L793.9,709.3L794.3,708.0L794.6,706.0L794.7,700.4L795.1,674.4L795.5,649.4L795.9,622.0L796.3,598.0L796.4,593.4L796.7,575.6L797.1,547.4L797.5,519.8L797.9,496.1L798.3,466.6L798.3,467.0L798.7,456.8L799.1,485.9L799.5,447.2L799.9,422.0L800.1,415.0L800.3,422.8L800.7,449.5L801.1,492.7L801.5,496.0L801.9,481.4L801.9,487.9L802.3,518.0L802.7,550.6L803.1,588.8L803.5,575.5L803.7,592.6L803.9,599.1L804.3,621.0L804.7,636.9L805.1,657.5L805.5,678.6L805.6,679.2L805.9,681.6L806.3,684.8L806.7,688.4L807.1,690.8L807.4,693.0L807.5,691.8L807.9,687.0L808.3,684.5L808.7,679.1L809.1,678.5L809.5,674.1L809.8,674.0L809.9,670.4L810.3,669.1L810.7,676.7L811.1,665.4L811.5,654.0L811.9,643.6L812.3,641.3L812.7,638.0L812.9,639.3L813.1,637.8L813.5,635.2L813.9,629.5L814.3,623.9L814.7,607.4L815.0,600.5L815.1,603.0L815.5,617.6L815.9,636.0L816.3,657.6L816.7,691.7L816.8,686.2L817.1,667.0L817.5,636.7L817.9,631.8L818.3,648.5L818.7,606.4L819.0,597.8L819.1,590.8L819.5,576.9L819.9,559.9L820.3,545.8L820.5,540.3L820.7,527.4L821.1,504.3L821.5,482.7L821.7,473.2L821.9,471.4L822.3,463.2L822.6,453.1L822.7,463.3L823.1,505.0L823.5,530.5L823.8,543.4L823.9,546.2L824.3,571.2L824.7,633.2L825.1,685.7L825.5,662.5L825.7,675.1L825.9,672.9L826.3,672.1L826.7,675.1L827.1,675.9L827.5,677.3L827.9,676.8L828.1,674.8L828.3,678.6L828.7,674.0L829.1,679.7L829.5,682.7L829.9,684.5L830.3,687.2L830.7,687.7L831.1,692.2L831.1,691.9L831.5,677.6L831.9,666.6L832.3,652.5L832.7,637.2L833.0,628.0L833.1,618.9L833.5,599.3L833.9,577.8L834.3,554.9L834.7,537.6L834.8,526.9L835.1,521.3L835.5,516.3L835.9,507.0L836.3,499.6L836.6,492.7L836.7,497.6L837.1,513.7L837.5,512.1L837.9,547.4L838.2,589.6L838.3,604.2L838.7,591.6L839.1,522.1L839.4,483.8L839.5,471.5L839.9,462.3L840.3,450.0L840.3,451.3L840.7,504.3L841.1,529.8L841.5,556.1L841.5,558.8L841.9,582.7L842.3,599.2L842.7,618.0L843.1,636.6L843.3,655.1L843.5,659.1L843.9,673.1L844.3,682.9L844.7,668.3L845.1,671.9L845.5,673.4L845.9,678.8L846.3,684.3L846.4,685.9L846.7,686.8L847.1,687.5L847.5,688.5L847.9,687.6L848.3,688.2L848.7,689.5L849.1,688.1L849.5,690.2L849.9,688.8L850.0,692.4L850.3,687.8L850.7,679.9L851.1,677.3L851.5,671.0L851.9,665.3L852.3,658.7L852.5,654.8L852.7,650.0L853.1,635.2L853.5,619.7L853.9,613.2L854.3,602.9L854.7,595.5L854.9,590.7L855.1,584.3L855.5,580.5L855.9,569.3L856.3,551.4L856.7,542.2L857.0,525.8L857.1,523.0L857.5,517.8L857.9,512.2L858.3,504.4L858.6,498.8L858.7,507.6L859.1,534.7L859.5,584.1L859.9,601.0L860.1,605.9L860.3,609.8L860.7,621.1L861.1,643.9L861.5,664.0L861.9,685.9L862.2,701.7L862.3,702.9L862.7,687.6L863.1,685.1L863.5,684.7L863.9,685.2L864.3,686.7L864.7,686.2L864.7,688.4L865.1,672.2L865.5,673.3L865.9,653.6L866.3,639.4L866.7,631.2L866.8,626.9L867.1,621.7L867.5,613.7L867.9,606.5L868.3,605.1L868.6,588.8L868.7,584.2L869.1,575.7L869.5,556.6L869.9,541.9L870.3,537.7L870.7,550.8L870.7,550.9L871.1,562.2L871.5,561.3L871.9,528.6L872.3,528.0L872.6,527.4L872.7,530.9L873.1,542.5L873.5,554.1L873.9,566.7L874.3,577.3L874.4,581.7L874.7,571.7L875.1,570.9L875.5,571.9L875.9,564.4L876.2,560.9L876.3,562.6L876.7,574.9L877.1,590.6L877.5,627.5L877.9,631.5L878.1,627.3L878.3,628.0L878.7,626.0L879.1,650.0L879.5,682.1L879.9,670.6L879.9,670.2L880.3,668.0L880.7,668.2L881.1,672.2L881.5,680.5L881.9,689.2L882.3,698.4L882.7,705.5L882.9,708.2L883.1,709.1L883.5,711.5L883.9,708.8L884.3,709.8L884.7,709.4L885.1,710.8L885.5,717.7L885.9,734.5L886.3,733.6L886.6,731.6L886.7,730.7L887.1,730.0L887.5,726.4L887.9,725.6L888.3,733.7L888.7,738.9L889.1,744.2L889.5,739.9L889.9,739.2L890.3,737.4L890.5,742.9L890.7,744.0L891.1,746.2L891.5,746.4L891.9,746.4L892.3,741.9L892.7,743.2L893.1,738.3L893.5,739.6L893.6,739.1L893.9,723.3L894.3,701.4L894.7,680.9L895.1,655.4L895.1,652.5L895.5,620.2L895.9,591.1L896.3,561.8L896.7,535.9L896.9,598.0L897.1,583.8L897.5,532.5L897.9,487.1L898.3,454.3L898.7,441.3L898.8,437.9L899.1,469.5L899.5,520.7L899.9,561.3L900.3,584.5L900.3,584.6L900.7,597.6L901.1,609.6L901.5,623.1L901.9,640.0L902.1,650.7L902.3,656.9L902.7,679.8L903.1,704.2L903.5,723.0L903.9,738.8L904.3,745.4L904.3,742.0L904.7,686.0L905.1,643.2L905.5,621.0L905.5,623.2L905.9,619.9L906.3,553.2L906.7,515.1L907.1,477.0L907.3,455.8L907.5,441.9L907.9,419.5L908.3,389.1L908.7,384.3L909.1,387.0L909.1,387.1L909.5,391.6L909.9,384.4L910.3,337.4L910.7,326.3L911.0,320.6L911.1,323.6L911.5,333.6L911.9,340.1L912.3,352.8L912.7,360.1L912.8,362.4L913.1,374.2L913.5,390.3L913.9,407.2L914.3,428.4L914.6,439.1L914.7,449.7L915.1,486.4L915.5,505.8L915.9,524.5L916.3,550.8L916.4,559.2L916.7,578.5L917.1,604.5L917.5,631.9L917.9,657.8L918.3,678.8L918.3,677.4L918.7,690.3L919.1,687.3L919.5,682.2L919.9,682.6L920.3,683.1L920.7,697.6L921.0,686.8L921.1,680.6L921.5,647.5L921.9,614.9L922.3,582.9L922.5,564.2L922.7,556.3L923.1,528.6L923.5,547.8L923.9,486.1L924.3,454.1L924.4,453.4L924.7,457.1L925.1,467.1L925.5,474.9L925.9,482.5L926.3,444.6L926.5,425.0L926.7,402.9L927.1,361.1L927.5,351.5L927.9,354.3L928.3,348.2L928.6,334.3L928.7,339.2L929.1,369.2L929.5,407.3L929.9,398.7L930.3,404.1L930.7,405.5L930.8,403.9L931.1,409.3L931.5,421.3L931.9,429.1L932.3,449.0L932.7,476.4L932.9,483.3L933.1,502.9L933.5,535.5L933.9,535.5L934.3,559.7L934.7,589.4L934.7,589.9L935.1,606.3L935.5,621.3L935.9,635.8L936.3,653.1L936.7,665.7L937.1,699.4L937.2,700.2L937.5,694.7L937.9,694.6L938.3,708.5L938.7,708.4L939.1,711.5L939.5,714.8L939.9,717.3L940.3,725.1L940.7,729.2L940.8,731.9L941.1,713.6L941.5,693.0L941.9,671.9L942.3,669.4L942.6,648.4L942.7,643.5L943.1,622.6L943.5,598.5L943.9,570.5L944.3,542.2L944.5,533.8L944.7,534.6L945.1,536.9L945.5,545.5L945.9,514.4L946.3,492.3L946.7,469.1L946.9,458.8L947.1,452.2L947.5,437.6L947.9,418.7L948.3,418.8L948.7,423.2L949.1,425.6L949.3,430.4L949.5,467.9L949.9,434.4L950.3,396.6L950.7,369.1L951.1,358.4L951.5,354.1L951.5,355.1L951.9,370.1L952.3,391.8L952.7,423.9L953.1,455.8L953.5,476.3L953.6,418.0L953.9,421.1L954.3,413.0L954.7,412.2L955.1,426.7L955.5,441.8L955.9,451.6L956.0,456.9L956.3,565.3L956.7,544.3L957.1,530.8L957.5,515.8L957.9,500.7L958.3,490.4L958.5,501.2L958.7,521.7L959.1,557.8L959.5,592.7L959.7,605.9L959.9,592.9L960.0,586.9L960.3,551.1L960.7,498.4L961.1,449.2L961.5,458.6L961.9,475.5L962.3,495.6L962.4,499.1L962.7,511.2L963.1,517.8L963.5,501.5L963.9,455.1L964.3,406.6L964.6,393.7L964.7,401.1L965.1,435.1L965.5,482.6L965.9,541.5L966.1,574.3L966.3,514.5L966.7,486.9L967.1,459.7L967.5,443.5L967.6,445.9L967.9,449.0L968.3,445.2L968.7,432.7L969.1,408.7L969.1,407.4L969.5,428.6L969.9,450.3L970.3,470.7L970.7,489.9L971.0,500.9L971.1,509.9L971.5,524.6L971.9,534.6L972.2,534.1L972.3,529.7L972.7,514.4L973.1,499.4L973.5,486.4L973.7,480.5L973.9,491.4L974.3,512.3L974.7,534.8L975.1,552.9L975.2,558.6L975.5,566.2L975.9,584.8L976.3,603.9L976.7,620.0L977.1,680.8L977.1,677.1L977.5,666.3L977.9,656.7L978.3,647.4L978.7,677.8L978.9,690.5L979.1,680.3L979.5,652.5L979.9,627.1L980.3,605.7L980.7,591.9L980.7,591.4L981.1,618.6L981.5,648.8L981.9,671.4L982.3,689.9L982.7,703.7L982.8,710.6L983.1,707.8L983.5,710.2L983.9,709.6L984.3,718.7L984.7,728.8L985.1,734.4L985.5,740.1L985.9,738.9L985.9,739.3L986.3,708.0L986.7,672.8L987.1,652.5L987.4,642.0L987.5,638.2L987.9,624.9L988.3,627.9L988.7,580.9L989.1,527.5L989.2,506.2L989.5,466.7L989.9,404.1L990.3,350.3L990.7,326.8L991.1,285.6L991.1,291.2L991.5,353.9L991.9,403.6L992.3,445.6L992.6,471.1L992.7,477.6L993.1,495.3L993.5,516.7L993.9,553.8L994.1,574.3L994.3,582.1L994.7,604.1L995.1,625.6L995.5,615.8L995.9,632.3L996.3,643.9L996.6,651.4L996.7,652.5L997.1,657.9L997.5,666.8L997.9,674.2L998.3,682.2L998.7,693.9L999.0,715.2L999.1,716.6L999.5,711.9L999.9,709.7L1000.3,710.4L1000.7,718.4L1001.1,726.6L1001.1,724.5L1001.5,669.8L1001.9,620.9L1002.3,569.7L1002.6,529.0L1002.7,523.6L1003.1,483.3L1003.5,441.9L1003.9,408.8L1003.9,407.0L1004.3,396.4L1004.7,382.4L1005.1,367.8L1005.1,368.8L1005.5,401.9L1005.9,425.7L1006.3,442.8L1006.6,447.3L1006.7,458.1L1007.1,475.5L1007.5,512.0L1007.9,554.2L1008.1,575.1L1008.3,574.9L1008.7,566.5L1009.1,563.8L1009.5,510.7L1009.6,502.8L1009.9,492.5L1010.3,473.7L1010.7,451.7L1011.1,432.2L1011.2,428.7L1011.5,456.1L1011.9,489.5L1012.3,523.8L1012.4,532.6L1012.7,539.2L1013.1,544.1L1013.5,609.1L1013.9,595.0L1014.2,582.2L1014.3,574.0L1014.7,538.6L1015.1,520.5L1015.4,522.9L1015.5,521.2L1015.9,531.2L1016.3,535.3L1016.4,539.9L1016.7,553.5L1017.1,477.1L1017.5,464.8L1017.6,458.3L1017.9,422.7L1018.3,383.8L1018.5,366.1L1018.7,356.4L1019.1,334.9L1019.4,317.5L1019.5,327.0L1019.9,365.9L1020.3,407.2L1020.6,415.9L1020.7,425.3L1021.1,466.9L1021.5,503.5L1021.9,538.7L1022.1,561.4L1022.3,570.9L1022.7,592.7L1023.1,613.2L1023.5,631.4L1023.9,653.5L1024.0,656.2L1024.3,684.2L1024.7,650.0L1025.1,620.9L1025.5,601.1L1025.8,591.4L1025.9,595.1L1026.3,616.2L1026.7,611.1L1027.1,619.9L1027.5,625.3L1027.6,626.2L1027.9,627.5L1028.3,634.7L1028.7,639.1L1029.1,643.5L1029.5,650.6L1029.9,653.6L1030.1,698.8L1030.3,689.8L1030.7,675.3L1031.1,663.5L1031.5,677.8L1031.9,688.5L1032.3,700.8L1032.7,700.3L1033.1,697.8L1033.1,698.7L1033.5,651.5L1033.9,602.0L1034.3,540.2L1034.3,538.9L1034.7,498.6L1035.1,467.7L1035.5,430.1L1035.5,425.7L1035.9,466.4L1036.3,518.2L1036.7,526.1L1036.8,530.6L1037.1,550.3L1037.5,569.0L1037.9,592.3L1038.3,614.7L1038.6,626.7L1038.7,651.3L1039.1,605.7L1039.5,548.7L1039.8,510.4L1039.9,495.4L1040.3,455.1L1040.7,426.7L1040.7,425.7L1041.1,408.1L1041.5,376.0L1041.6,361.7L1041.9,387.8L1042.3,416.1L1042.7,440.3L1042.9,448.1L1043.1,446.4L1043.5,461.2L1043.9,487.0L1044.3,513.1L1044.4,572.1L1044.7,535.2L1045.1,486.1L1045.5,434.3L1045.9,407.0L1046.2,413.3L1046.3,411.5L1046.7,428.8L1047.1,438.4L1047.5,453.5L1047.7,460.0L1047.9,451.5L1048.3,356.1L1048.7,327.7L1049.1,308.4L1049.2,303.8L1049.5,312.1L1049.9,335.7L1050.3,368.8L1050.7,408.7L1050.8,392.6L1051.1,380.0L1051.5,373.0L1051.9,363.8L1052.3,357.1L1052.6,359.7L1052.7,361.3L1053.1,364.2L1053.5,357.3L1053.9,350.7L1054.3,343.5L1054.4,340.4L1054.7,375.2L1055.1,413.6L1055.5,437.7L1055.9,448.0L1056.3,442.7L1056.3,438.6L1056.7,424.3L1057.1,449.1L1057.5,494.1L1057.9,540.6L1058.1,557.4L1058.3,565.8L1058.7,423.6L1059.1,387.0L1059.3,373.9L1059.5,365.1L1059.9,353.6L1060.3,331.2L1060.5,326.1L1060.7,323.6L1061.1,314.8L1061.4,308.4L1061.5,311.4L1061.9,328.8L1062.3,405.9L1062.7,419.8L1062.7,423.4L1063.1,435.7L1063.5,438.6L1063.9,497.1L1064.2,545.7L1064.3,564.3L1064.7,548.9L1065.1,590.4L1065.5,630.5L1065.9,671.1L1066.0,679.1L1066.3,674.5L1066.7,665.0L1067.1,656.7L1067.5,642.7L1067.9,634.2L1068.1,628.9L1068.3,628.0L1068.7,631.5L1069.1,628.1L1069.5,624.1L1069.9,623.2L1070.3,621.8L1070.3,622.5L1070.7,630.7L1071.1,638.0L1071.5,645.2L1071.9,652.8L1072.1,651.2L1072.3,641.9L1072.7,621.7L1073.1,603.6L1073.5,582.8L1073.9,562.2L1073.9,564.1L1074.3,539.2L1074.7,516.5L1075.1,493.4L1075.4,473.1L1075.5,524.1L1075.9,477.4L1076.3,442.1L1076.4,437.9L1076.7,461.4L1077.1,476.4L1077.5,506.3L1077.6,515.4L1077.9,541.5L1078.3,553.6L1078.5,555.2L1078.7,541.8L1079.1,490.3L1079.4,471.4L1079.5,476.5L1079.9,497.0L1080.3,520.5L1080.6,542.7L1080.7,544.6L1081.1,577.8L1081.5,569.9L1081.9,561.3L1082.3,555.1L1082.4,554.0L1082.7,554.4L1083.1,549.9L1083.5,549.8L1083.9,545.4L1084.3,549.3L1084.3,551.4L1084.7,488.0L1085.1,472.9L1085.5,454.8L1085.8,440.3L1085.9,434.8L1086.3,430.1L1086.7,423.9L1087.1,416.3L1087.3,412.0L1087.5,417.7L1087.9,454.1L1088.3,469.8L1088.7,477.7L1088.8,476.7L1089.1,479.5L1089.5,483.9L1089.9,523.6L1090.3,564.1L1090.4,572.8L1090.7,590.0L1091.1,601.2L1091.5,612.8L1091.9,625.5L1092.3,638.5L1092.5,657.4L1092.7,660.8L1093.1,667.6L1093.5,645.3L1093.9,644.2L1094.3,639.1L1094.7,635.0L1095.1,631.5L1095.5,629.7L1095.5,626.5L1095.9,624.7L1096.3,626.5L1096.7,624.2L1097.1,628.6L1097.5,623.7L1097.7,621.8L1097.9,628.3L1098.3,639.9L1098.7,649.2L1099.1,656.3L1099.5,665.5L1099.9,682.0L1100.1,688.8L1100.3,690.1L1100.7,707.0L1101.1,706.2L1101.5,704.6L1101.9,705.6L1102.3,707.9L1102.6,713.3L1102.7,696.3L1103.1,652.7L1103.5,615.3L1103.8,596.6L1103.9,581.7L1104.3,551.7L1104.7,450.1L1105.0,412.2L1105.1,400.9L1105.5,367.9L1105.9,339.0L1106.2,316.0L1106.3,323.0L1106.7,354.7L1107.1,409.5L1107.4,429.8L1107.5,434.3L1107.9,446.6L1108.3,479.7L1108.6,517.3L1108.7,515.4L1109.1,522.1L1109.5,483.9L1109.9,472.9L1109.9,463.5L1110.3,432.6L1110.7,399.6L1111.1,375.7L1111.1,380.7L1111.5,362.8L1111.9,352.3L1112.3,331.3L1112.3,331.3L1112.7,353.9L1113.1,380.7L1113.5,407.8L1113.5,408.8L1113.9,433.6L1114.3,515.9L1114.7,492.5L1114.7,488.8L1115.1,451.3L1115.5,418.4L1115.7,437.1L1115.9,444.6L1116.3,439.1L1116.7,401.1L1116.9,383.0L1117.1,408.0L1117.5,430.6L1117.9,485.5L1118.1,524.7L1118.3,575.8L1118.7,596.5L1119.1,588.7L1119.5,591.3L1119.6,597.6L1119.9,599.4L1120.3,624.4L1120.7,652.1L1121.1,673.2L1121.5,693.3L1121.9,711.2L1122.0,717.7L1122.3,682.9L1122.7,684.5L1123.1,686.6L1123.5,690.9L1123.9,692.8L1124.3,697.3L1124.7,701.0L1125.1,702.0L1125.5,701.9L1125.9,707.5L1126.0,711.5L1126.3,698.6L1126.7,679.5L1127.1,636.8L1127.5,594.1L1127.5,593.9L1127.9,591.4L1128.3,588.2L1128.7,535.6L1128.7,529.2L1129.1,502.3L1129.5,479.2L1129.7,471.4L1129.9,488.3L1130.3,510.3L1130.6,529.6L1130.7,542.8L1131.1,588.9L1131.5,630.9L1131.9,665.6L1132.3,673.3L1132.4,677.6L1132.7,676.1L1133.1,674.9L1133.5,674.3L1133.9,682.8L1134.3,705.0L1134.7,698.4L1135.1,689.6L1135.1,688.4L1135.5,682.8L1135.9,678.4L1136.3,689.4L1136.7,703.3L1137.1,717.3L1137.5,698.2L1137.9,697.6L1138.2,699.6L1138.3,693.6L1138.7,675.6L1139.1,658.6L1139.5,638.8L1139.9,674.3L1140.3,636.5L1140.3,634.0L1140.7,588.2L1141.1,536.8L1141.5,527.6L1141.9,522.0L1142.2,523.7L1142.3,522.5L1142.7,524.0L1143.1,531.5L1143.5,540.1L1143.9,404.8L1144.0,400.3L1144.3,373.7L1144.7,340.1L1145.1,308.9L1145.2,302.3L1145.5,327.9L1145.9,363.7L1146.1,382.9L1146.3,384.8L1146.7,388.6L1147.1,392.9L1147.3,395.5L1147.5,395.1L1147.9,352.5L1148.3,341.1L1148.7,325.1L1148.9,325.7L1149.1,313.3L1149.5,312.0L1149.9,303.0L1150.3,343.0L1150.7,304.3L1151.0,282.5L1151.1,289.5L1151.5,304.7L1151.9,308.0L1152.3,302.5L1152.7,321.0L1152.8,331.9L1153.1,366.3L1153.5,400.5L1153.9,297.7L1154.3,297.2L1154.7,295.6L1154.9,294.7L1155.1,295.8L1155.5,298.7L1155.9,301.2L1156.3,307.4L1156.5,305.8L1156.7,303.4L1157.1,302.1L1157.4,300.8L1157.5,310.7L1157.9,336.1L1158.3,350.0L1158.7,350.9L1159.1,345.4L1159.2,351.8L1159.5,377.0L1159.9,425.0L1160.3,457.3L1160.7,400.5L1161.0,409.5L1161.1,416.0L1161.5,429.2L1161.9,441.7L1162.3,455.6L1162.7,468.3L1162.9,474.3L1163.1,486.6L1163.5,505.2L1163.9,526.4L1164.3,544.2L1164.7,638.4L1164.7,638.0L1165.1,631.4L1165.5,625.4L1165.9,621.7L1166.3,620.8L1166.7,628.3L1167.1,659.0L1167.1,661.0L1167.5,668.6L1167.9,681.9L1168.3,619.9L1168.7,601.4L1169.0,593.4L1169.1,588.4L1169.5,573.7L1169.9,558.9L1170.3,549.5L1170.7,556.8L1170.8,545.3L1171.1,522.2L1171.5,498.1L1171.9,483.4L1172.3,477.5L1172.3,477.5L1172.5,477.9L1172.5,778.0Z" fill="#f59a52" stroke="#f59a52" stroke-width="0.5" stroke-linejoin="round"/>
<path d="M146.7,778.0L146.7,570.0L147.1,581.7L147.5,590.0L147.9,596.8L148.3,579.1L148.7,555.1L149.1,564.2L149.5,578.7L149.9,595.0L150.3,555.8L150.7,556.7L150.7,557.1L151.1,558.3L151.5,557.5L151.9,558.6L152.3,556.3L152.7,557.1L153.1,561.6L153.5,575.9L153.9,568.7L154.3,564.5L154.7,559.8L155.1,559.9L155.2,562.0L155.5,568.5L155.9,576.5L156.3,585.5L156.7,596.6L157.1,586.0L157.5,590.7L157.7,591.5L157.9,597.5L158.3,606.0L158.7,613.1L158.9,616.4L159.1,615.5L159.5,605.0L159.9,593.3L160.3,583.5L160.7,572.2L160.7,570.1L161.1,565.3L161.5,566.7L161.9,567.9L162.3,609.9L162.7,577.9L163.1,559.0L163.5,549.0L163.8,547.6L163.9,553.2L164.3,560.2L164.7,568.1L165.1,574.6L165.5,579.3L165.9,587.8L165.9,587.3L166.3,597.5L166.7,609.9L167.1,619.9L167.4,630.3L167.5,628.7L167.9,636.4L168.3,613.4L168.7,587.8L169.1,584.7L169.2,582.4L169.5,584.5L169.9,588.6L170.3,594.8L170.7,590.1L171.1,568.5L171.5,554.6L171.9,545.9L172.0,544.6L172.3,546.3L172.7,552.6L173.1,563.2L173.5,597.7L173.9,582.6L174.3,566.4L174.7,552.4L175.0,563.2L175.1,567.5L175.5,595.7L175.9,621.0L176.3,598.9L176.7,576.8L177.1,561.5L177.5,589.6L177.9,616.0L178.1,627.2L178.3,635.0L178.7,624.0L179.1,611.0L179.5,599.6L179.6,595.2L179.9,581.3L180.3,601.5L180.7,633.4L181.1,652.9L181.5,640.0L181.9,631.0L182.3,620.8L182.6,611.8L182.7,608.1L183.1,599.8L183.5,591.3L183.9,609.2L184.3,636.3L184.7,661.0L185.1,657.8L185.5,648.3L185.7,641.9L185.9,637.2L186.3,630.0L186.7,620.3L187.1,615.6L187.5,635.2L187.9,652.2L188.3,669.3L188.7,647.4L188.7,647.4L189.1,644.4L189.5,640.5L189.9,636.5L190.3,641.1L190.7,646.1L191.1,654.4L191.5,661.1L191.9,667.5L192.3,671.7L192.7,694.4L193.1,682.2L193.3,676.3L193.5,669.9L193.9,673.6L194.3,689.2L194.7,703.2L195.1,717.6L195.5,699.5L195.9,692.3L196.3,695.5L196.7,701.2L197.1,708.5L197.5,716.2L197.9,724.6L198.3,713.7L198.7,715.8L199.1,716.8L199.4,719.1L199.5,718.3L199.9,715.9L200.3,712.1L200.7,707.6L201.1,701.3L201.5,695.6L201.9,687.9L202.3,686.5L202.7,685.5L203.1,685.2L203.5,686.6L203.9,677.3L204.0,674.8L204.3,669.7L204.7,659.1L205.1,656.3L205.5,658.9L205.9,659.7L206.3,663.2L206.7,666.5L207.1,668.8L207.5,675.5L207.9,650.9L208.3,647.0L208.5,652.6L208.7,659.9L209.1,671.4L209.5,629.1L209.9,625.2L210.3,618.5L210.7,613.5L211.1,610.0L211.5,609.6L211.6,608.5L211.9,607.8L212.3,652.2L212.7,630.7L213.1,610.0L213.1,607.6L213.5,583.6L213.9,607.2L214.3,638.6L214.7,606.8L215.1,590.3L215.5,574.5L215.9,560.6L216.1,552.0L216.3,546.5L216.7,541.2L217.1,550.6L217.5,560.0L217.9,571.6L218.3,560.5L218.6,538.4L218.7,530.8L219.1,512.8L219.5,526.3L219.9,541.7L220.3,556.3L220.7,542.9L220.7,544.5L221.1,525.9L221.5,511.8L221.9,502.8L222.3,500.1L222.7,511.3L223.1,517.3L223.5,520.1L223.8,514.1L223.9,505.6L224.3,482.3L224.7,479.3L225.1,486.0L225.5,489.4L225.9,479.2L226.3,465.6L226.7,455.1L226.8,453.2L227.1,458.5L227.5,463.0L227.9,469.9L228.3,486.3L228.7,505.1L228.9,513.2L229.1,554.4L229.5,535.7L229.9,513.4L230.3,495.1L230.7,501.6L231.1,525.4L231.4,536.7L231.5,544.2L231.9,559.8L232.3,526.9L232.7,514.6L233.1,496.6L233.5,485.0L233.9,476.2L234.3,473.4L234.4,471.5L234.7,476.6L235.1,487.1L235.5,502.6L235.9,550.0L236.3,545.0L236.7,534.7L236.9,527.0L237.1,521.7L237.5,511.1L237.9,500.0L238.3,510.4L238.7,538.4L239.0,560.4L239.1,567.7L239.5,594.7L239.9,576.2L240.3,554.8L240.7,538.0L241.1,546.8L241.1,548.7L241.5,572.6L241.9,596.5L242.3,619.2L242.7,639.9L243.0,592.8L243.1,594.7L243.5,604.0L243.9,612.5L243.9,612.8L244.3,590.5L244.7,567.5L245.1,550.2L245.1,548.4L245.5,535.3L245.9,529.1L246.3,517.7L246.7,507.8L247.1,496.8L247.2,496.3L247.5,493.1L247.9,578.4L248.3,542.0L248.7,502.6L249.1,460.0L249.5,477.3L249.7,482.6L249.9,496.1L250.3,518.1L250.7,540.4L251.1,442.6L251.5,427.8L251.9,415.4L252.1,411.3L252.3,414.9L252.7,417.0L253.1,471.6L253.5,432.3L253.9,402.3L254.2,386.2L254.3,389.4L254.7,398.7L255.1,397.6L255.5,419.7L255.9,456.9L256.3,485.7L256.4,492.4L256.7,521.5L257.1,483.4L257.5,482.8L257.9,485.3L258.2,488.5L258.3,487.6L258.7,494.0L259.1,508.5L259.5,525.2L259.9,541.1L260.3,554.9L260.3,555.7L260.7,553.2L261.1,557.3L261.5,567.6L261.8,573.7L261.9,573.8L262.3,579.9L262.7,590.8L263.1,600.4L263.4,606.6L263.5,596.8L263.9,591.4L264.3,589.2L264.7,585.9L265.1,580.1L265.5,578.8L265.9,574.6L266.3,593.8L266.4,590.8L266.7,585.8L267.1,576.7L267.5,575.2L267.9,585.1L268.3,604.7L268.7,591.9L269.1,579.1L269.5,568.1L269.5,569.4L269.9,565.0L270.3,568.8L270.7,565.9L271.0,559.8L271.1,563.4L271.5,562.5L271.9,565.3L272.3,567.1L272.7,566.5L273.1,569.5L273.5,572.1L273.9,572.5L274.0,576.4L274.3,576.8L274.7,583.7L275.1,584.6L275.5,589.4L275.9,593.3L276.3,597.7L276.7,600.1L277.1,617.2L277.1,618.6L277.5,617.8L277.9,619.2L278.3,619.1L278.7,632.7L279.1,676.6L279.5,666.6L279.5,667.0L279.9,663.7L280.3,660.6L280.7,663.4L281.1,681.8L281.5,695.9L281.6,701.0L281.9,698.0L282.3,695.4L282.7,672.5L283.1,644.5L283.5,612.5L283.8,610.0L283.9,606.5L284.3,599.3L284.7,595.8L285.1,593.3L285.5,532.7L285.6,530.5L285.9,520.2L286.3,510.3L286.7,497.3L287.1,487.0L287.5,479.7L287.7,474.5L287.9,477.5L288.3,485.5L288.7,494.8L289.1,517.5L289.5,514.5L289.9,507.0L289.9,503.2L290.3,500.6L290.7,518.1L291.1,533.4L291.5,546.4L291.9,564.4L292.3,557.1L292.3,559.4L292.7,553.6L293.1,551.1L293.5,555.2L293.9,565.8L294.3,573.3L294.7,580.0L295.1,589.0L295.3,593.9L295.5,599.7L295.9,609.8L296.3,633.1L296.7,631.6L297.1,628.1L297.5,626.1L297.9,623.0L298.3,620.2L298.4,620.8L298.7,631.6L299.1,642.5L299.5,658.4L299.9,671.1L300.3,646.2L300.7,645.9L301.1,648.0L301.5,655.4L301.9,662.6L302.3,670.8L302.7,676.4L303.0,676.2L303.1,673.7L303.5,667.5L303.9,657.0L304.3,652.1L304.7,649.6L305.1,647.1L305.5,645.7L305.9,645.8L306.0,643.7L306.3,634.8L306.7,623.6L307.1,612.1L307.5,601.9L307.9,605.1L308.3,608.2L308.7,612.3L309.1,585.9L309.1,583.7L309.5,572.2L309.9,563.5L310.3,558.5L310.6,553.7L310.7,555.4L311.1,561.4L311.5,568.0L311.9,584.5L312.3,581.5L312.7,572.6L313.1,572.5L313.5,579.6L313.6,581.5L313.9,589.6L314.3,597.3L314.7,603.7L315.1,612.1L315.5,643.4L315.9,636.9L316.3,629.0L316.7,623.1L316.7,620.6L317.1,614.2L317.5,605.5L317.9,621.3L318.3,634.9L318.7,649.2L319.1,637.0L319.5,629.6L319.9,625.0L320.3,626.0L320.7,632.0L321.1,639.7L321.2,642.0L321.5,639.7L321.9,636.7L322.3,637.3L322.7,608.0L323.1,603.8L323.5,595.8L323.7,588.5L323.9,590.1L324.3,586.5L324.7,585.2L325.1,580.9L325.5,580.5L325.8,575.1L325.9,576.5L326.3,581.1L326.7,585.2L327.1,594.9L327.5,606.8L327.9,614.7L328.3,633.7L328.7,631.1L328.9,628.3L329.1,626.6L329.5,622.3L329.9,618.9L330.3,619.1L330.7,635.9L331.1,651.4L331.5,639.3L331.9,641.5L331.9,640.8L332.3,645.9L332.7,651.5L333.1,652.9L333.5,661.6L333.9,668.8L334.3,679.3L334.7,686.6L334.9,686.4L335.1,684.4L335.5,685.1L335.9,687.5L336.3,697.0L336.7,692.4L337.1,683.3L337.5,677.6L337.9,668.3L338.0,671.3L338.3,676.5L338.7,679.9L339.1,683.5L339.5,684.3L339.9,685.6L340.3,676.3L340.7,668.5L341.0,665.2L341.1,665.2L341.5,660.0L341.9,664.4L342.3,666.8L342.7,672.5L343.1,665.7L343.5,661.4L343.9,660.8L344.3,659.6L344.7,663.7L344.7,664.2L345.0,665.2L345.1,698.6L345.5,687.1L345.9,675.3L346.3,662.6L346.7,649.3L347.1,645.6L347.5,650.0L347.9,657.2L348.3,656.5L348.7,651.4L349.1,625.8L349.5,622.5L349.6,622.0L349.9,625.7L350.3,630.0L350.7,634.5L351.1,638.1L351.5,646.5L351.9,649.3L352.3,691.6L352.6,689.0L352.7,687.7L353.1,683.2L353.5,679.0L353.9,675.3L354.3,673.4L354.7,679.3L355.1,695.7L355.5,713.5L355.9,686.2L356.3,693.3L356.7,695.3L357.1,698.2L357.2,698.5L357.5,699.0L357.9,700.3L358.3,701.1L358.7,704.2L359.1,706.2L359.5,718.7L359.9,716.9L360.2,715.9L360.3,715.2L360.7,711.0L361.1,711.4L361.5,713.3L361.9,716.0L362.3,720.5L362.7,719.7L363.1,717.2L363.3,716.9L363.5,715.1L363.9,707.8L364.3,701.5L364.7,697.6L365.1,692.5L365.5,693.4L365.9,693.2L366.3,695.5L366.3,695.3L366.7,686.4L367.1,679.1L367.5,673.2L367.9,679.9L368.3,683.7L368.7,689.1L369.1,683.1L369.5,674.9L369.9,671.2L370.3,677.3L370.7,683.8L371.1,700.5L371.5,684.2L371.9,665.5L372.3,667.6L372.4,673.3L372.7,683.5L373.1,696.0L373.5,671.4L373.9,667.1L374.3,662.6L374.7,659.3L375.1,654.4L375.5,654.2L375.9,658.4L376.3,659.7L376.7,649.7L377.0,647.3L377.1,646.6L377.5,644.1L377.9,646.5L378.3,649.0L378.7,650.3L379.1,656.8L379.5,650.5L379.9,647.7L380.0,647.2L380.3,644.4L380.7,644.3L381.1,662.9L381.5,641.5L381.9,620.4L382.3,638.9L382.7,656.0L383.1,630.3L383.1,630.7L383.5,601.9L383.9,592.5L384.3,593.9L384.7,598.0L385.1,616.8L385.5,593.8L385.9,566.8L386.1,556.1L386.3,544.9L386.7,524.3L387.1,541.4L387.5,561.4L387.9,567.0L388.3,535.5L388.7,524.8L389.1,516.4L389.2,515.4L389.5,520.1L389.9,523.4L390.3,527.6L390.7,545.7L391.1,555.6L391.5,550.1L391.9,548.3L392.2,545.3L392.3,546.3L392.7,561.7L393.1,579.2L393.5,591.2L393.9,606.8L394.3,629.8L394.7,621.4L395.1,615.1L395.3,629.7L395.5,642.4L395.9,653.7L396.3,646.1L396.7,639.4L397.1,635.9L397.5,645.5L397.9,656.5L398.3,662.5L398.3,662.7L398.7,651.9L399.1,644.9L399.5,619.0L399.8,603.7L399.9,604.8L400.3,606.1L400.7,622.9L401.1,650.2L401.5,619.5L401.9,619.3L402.3,622.8L402.7,625.6L402.9,626.0L403.1,632.6L403.5,643.9L403.9,644.8L404.3,645.4L404.7,653.4L405.1,662.2L405.5,681.3L405.9,674.6L405.9,673.5L406.3,663.5L406.7,659.0L407.1,672.2L407.5,686.4L407.9,659.8L408.3,645.1L408.7,645.4L409.0,643.3L409.1,645.4L409.5,655.2L409.9,669.0L410.3,663.0L410.7,663.9L411.1,658.9L411.5,658.8L411.9,669.3L412.0,671.0L412.3,672.6L412.7,675.8L413.1,656.5L413.5,635.4L413.9,617.5L414.3,623.7L414.4,626.6L414.7,629.2L415.1,632.6L415.5,577.6L415.9,562.0L416.3,548.8L416.6,539.7L416.7,542.1L417.1,551.1L417.5,586.5L417.9,594.7L418.3,595.4L418.7,589.7L419.1,589.4L419.5,606.6L419.6,608.7L419.9,620.2L420.3,636.4L420.7,650.0L421.1,645.9L421.5,651.0L421.9,655.1L422.3,659.7L422.7,667.2L422.7,664.4L423.1,658.0L423.5,655.6L423.9,654.6L424.3,650.1L424.7,650.8L425.1,665.7L425.5,650.9L425.7,641.3L425.9,637.4L426.3,619.5L426.7,621.4L427.1,636.8L427.5,642.2L427.9,611.0L428.3,605.6L428.7,604.1L428.8,603.7L429.1,609.4L429.5,616.1L429.9,622.1L430.3,625.6L430.7,630.2L431.1,637.9L431.5,641.7L431.8,648.4L431.9,650.6L432.3,652.0L432.7,655.7L433.1,660.2L433.5,662.2L433.9,666.1L434.3,662.9L434.7,664.1L435.1,669.6L435.5,670.2L435.9,690.8L436.3,685.8L436.4,684.8L436.7,677.4L437.1,672.8L437.5,665.5L437.9,673.3L438.3,680.9L438.7,688.2L439.1,690.6L439.5,682.5L439.9,674.7L440.3,668.3L440.7,661.9L440.9,664.7L441.1,664.6L441.5,661.4L441.9,652.7L442.3,641.2L442.7,626.7L443.1,603.7L443.1,604.4L443.5,614.7L443.9,618.0L444.3,614.2L444.7,631.1L445.1,655.3L445.5,676.9L445.9,646.0L446.3,643.6L446.7,643.3L447.0,641.5L447.1,642.7L447.5,630.6L447.9,621.2L448.3,619.4L448.7,619.7L449.1,613.8L449.5,597.5L449.9,591.0L450.1,588.5L450.3,588.3L450.7,588.8L451.1,590.2L451.5,591.7L451.9,638.3L452.3,625.7L452.7,611.8L453.1,604.4L453.1,601.3L453.5,595.9L453.9,613.8L454.3,629.5L454.7,648.4L455.1,665.6L455.5,632.5L455.9,633.6L456.2,636.9L456.3,635.7L456.7,640.1L457.1,649.8L457.5,656.6L457.9,665.7L458.3,670.5L458.7,679.2L459.1,686.7L459.5,703.0L459.9,701.5L460.3,704.8L460.7,707.4L460.7,708.1L461.1,698.4L461.5,694.0L461.9,693.9L462.3,698.5L462.7,700.5L463.1,690.6L463.5,682.6L463.9,673.0L464.3,665.1L464.7,656.1L465.1,648.1L465.3,644.1L465.5,644.9L465.9,646.1L466.3,646.7L466.7,645.8L467.1,641.8L467.5,628.6L467.9,614.3L468.3,610.4L468.7,608.0L469.1,605.0L469.5,598.3L469.9,588.5L469.9,588.5L470.3,588.7L470.7,589.5L471.1,589.8L471.5,588.5L471.9,591.5L472.3,590.5L472.7,596.1L472.9,603.3L473.1,604.3L473.5,602.3L473.9,602.2L474.3,603.8L474.7,605.3L475.1,608.1L475.5,612.1L475.9,615.7L476.0,617.4L476.3,622.5L476.7,663.9L477.1,661.2L477.5,657.5L477.9,656.2L478.3,655.7L478.7,666.7L479.0,685.2L479.1,687.5L479.5,677.4L479.9,671.6L480.3,664.2L480.7,655.0L481.1,659.8L481.5,662.8L481.9,686.3L482.1,680.5L482.3,669.4L482.7,649.0L483.1,635.3L483.5,666.0L483.9,649.1L484.3,627.6L484.7,613.8L485.1,607.0L485.1,606.7L485.5,617.0L485.9,637.1L486.3,627.8L486.7,619.6L487.1,626.3L487.5,636.5L487.9,648.7L488.2,684.3L488.3,679.9L488.7,669.5L489.1,658.8L489.5,648.6L489.9,632.9L490.3,624.3L490.7,624.1L491.1,623.6L491.2,622.0L491.5,630.7L491.9,648.9L492.3,631.6L492.7,635.7L493.1,639.9L493.5,639.6L493.9,641.7L494.3,645.1L494.7,662.4L495.1,659.1L495.5,657.9L495.8,656.3L495.9,655.8L496.3,658.8L496.7,665.5L497.1,669.7L497.5,676.0L497.9,674.4L498.3,672.6L498.7,669.2L499.1,664.6L499.5,661.0L499.9,660.8L500.3,666.3L500.3,666.2L500.7,666.9L501.1,662.6L501.5,638.3L501.9,634.5L502.3,626.8L502.7,617.1L503.1,610.5L503.4,603.5L503.5,600.7L503.9,599.8L504.3,594.9L504.7,592.0L505.1,631.0L505.5,602.3L505.9,583.1L506.3,571.9L506.4,570.2L506.7,572.5L507.1,585.6L507.5,611.0L507.9,582.7L508.3,581.2L508.7,581.6L509.1,584.2L509.5,588.4L509.9,619.7L510.3,612.5L510.7,603.4L511.0,599.0L511.1,597.7L511.5,589.1L511.9,604.6L512.3,628.1L512.7,616.8L513.1,617.3L513.5,617.2L513.9,615.3L514.3,621.0L514.7,627.3L515.1,639.6L515.5,639.3L515.6,639.1L515.9,635.0L516.3,628.4L516.7,623.4L517.1,620.8L517.5,620.8L517.9,622.6L518.3,625.2L518.7,623.0L519.1,629.5L519.5,622.8L519.9,612.0L520.1,605.4L520.3,603.0L520.7,597.9L521.1,595.9L521.5,607.2L521.9,603.9L522.3,602.5L522.7,599.4L523.1,597.4L523.5,593.3L523.9,590.3L524.3,588.9L524.7,588.4L524.7,588.5L525.1,592.7L525.5,599.8L525.9,610.2L526.3,610.1L526.7,611.9L527.1,614.3L527.5,620.9L527.8,624.7L527.9,628.5L528.3,634.2L528.7,655.9L529.1,640.5L529.5,655.5L529.9,672.0L530.3,686.8L530.7,686.9L530.8,685.1L531.1,684.2L531.5,684.1L531.9,684.2L532.3,692.3L532.7,700.3L533.1,706.1L533.5,715.0L533.9,720.9L533.9,720.3L534.3,719.1L534.7,699.0L535.1,693.6L535.5,688.1L535.9,685.5L536.3,716.8L536.7,701.7L536.9,692.0L537.1,684.0L537.5,668.0L537.9,669.1L538.3,677.0L538.7,683.3L539.1,690.3L539.5,696.4L539.9,703.1L540.3,659.6L540.7,656.7L541.1,655.7L541.5,655.2L541.5,656.5L541.9,654.7L542.3,653.5L542.7,652.2L543.1,650.7L543.5,653.1L543.9,650.2L544.3,641.3L544.7,638.7L545.1,636.8L545.5,634.6L545.9,629.9L546.0,628.1L546.3,631.6L546.7,633.6L547.1,636.1L547.5,640.9L547.9,644.7L548.3,649.5L548.7,654.7L549.1,656.4L549.5,660.5L549.7,660.4L549.9,659.2L550.0,658.4L550.3,663.7L550.7,668.8L551.1,672.0L551.5,679.0L551.9,686.9L552.3,692.8L552.7,698.2L553.0,697.6L553.1,697.1L553.5,697.9L553.9,700.7L554.3,702.6L554.7,710.9L555.1,715.5L555.5,721.2L555.9,726.4L556.3,730.9L556.7,742.5L557.1,741.3L557.5,738.7L557.6,737.4L557.9,738.1L558.3,736.6L558.7,739.6L559.1,746.4L559.5,750.7L559.9,738.3L560.3,737.7L560.7,740.7L560.7,738.1L561.1,729.2L561.5,723.0L561.9,715.5L562.3,707.1L562.7,702.1L563.1,693.2L563.5,685.4L563.7,699.3L563.9,697.0L564.3,689.0L564.7,678.3L565.1,667.7L565.5,658.7L565.9,653.3L566.3,647.9L566.7,641.2L566.8,640.1L567.1,644.4L567.5,651.5L567.9,657.7L568.3,651.9L568.7,641.0L569.1,646.4L569.5,653.3L569.8,660.7L569.9,661.2L570.3,671.9L570.7,655.6L571.1,655.8L571.5,655.9L571.9,661.7L572.3,667.5L572.7,671.0L572.8,675.0L573.1,679.3L573.5,683.7L573.9,689.3L574.3,691.2L574.7,692.1L575.1,694.4L575.5,694.4L575.9,695.9L576.3,699.5L576.7,701.8L577.1,703.6L577.4,708.3L577.5,710.0L577.9,709.3L578.3,708.2L578.7,708.7L579.1,710.5L579.5,716.3L579.9,723.0L580.3,727.1L580.7,730.4L581.1,737.1L581.5,729.2L581.9,734.1L582.0,736.2L582.3,741.7L582.7,746.6L583.1,745.8L583.5,745.3L583.9,745.3L584.3,745.4L584.7,744.9L585.1,746.2L585.5,754.1L585.9,759.0L585.9,757.9L586.3,756.5L586.7,754.2L587.1,752.3L587.5,749.6L587.9,747.2L588.3,745.5L588.7,746.3L589.1,744.9L589.5,744.1L589.6,744.1L589.9,733.7L590.3,726.7L590.7,719.9L591.1,714.9L591.5,710.5L591.9,704.9L592.3,700.7L592.6,694.9L592.7,695.2L593.1,698.4L593.5,702.2L593.9,708.0L594.3,719.8L594.7,712.9L595.1,711.1L595.5,724.6L595.7,728.1L595.9,733.3L596.3,725.8L596.7,726.1L597.1,726.9L597.5,729.4L597.9,730.0L598.3,734.3L598.7,739.6L598.7,738.1L599.1,736.6L599.5,731.7L599.9,726.9L600.3,723.1L600.7,724.4L601.1,724.6L601.5,726.6L601.8,722.5L601.9,720.8L602.3,714.4L602.7,705.6L603.1,696.0L603.5,687.6L603.9,687.5L604.3,688.7L604.7,688.6L604.8,690.8L605.1,667.0L605.5,660.4L605.9,656.5L606.3,653.1L606.7,645.8L607.1,640.3L607.5,634.0L607.9,627.9L607.9,628.6L608.3,637.1L608.7,640.1L609.1,638.7L609.5,639.0L609.9,647.4L610.3,653.1L610.7,661.8L610.9,665.2L611.1,667.2L611.5,675.2L611.9,683.0L612.3,677.5L612.7,670.3L613.1,662.6L613.5,668.7L613.9,678.1L614.0,678.2L614.3,683.7L614.7,688.2L615.1,692.3L615.5,697.4L615.9,673.2L616.3,675.3L616.7,671.8L617.1,672.2L617.5,674.1L617.9,673.9L618.3,675.3L618.5,683.5L618.7,681.1L619.1,675.3L619.5,668.4L619.9,669.4L620.3,671.7L620.7,680.8L621.1,667.7L621.5,659.4L621.6,658.4L621.9,659.9L622.3,663.1L622.7,673.4L623.1,689.6L623.5,672.5L623.9,671.2L624.3,670.9L624.6,671.2L624.7,670.6L625.1,673.0L625.5,678.2L625.9,683.1L626.3,687.4L626.7,702.1L627.1,700.5L627.5,702.6L627.7,701.8L627.9,701.7L628.3,698.6L628.7,699.1L629.1,700.1L629.5,704.9L629.9,711.8L630.3,716.6L630.7,716.1L630.7,715.3L631.1,712.4L631.5,709.0L631.9,706.7L632.3,704.6L632.7,703.7L633.1,701.6L633.5,700.9L633.9,700.1L634.3,700.8L634.7,705.4L635.1,699.9L635.3,698.1L635.5,693.6L635.9,686.0L636.3,691.9L636.7,694.2L637.1,690.2L637.5,681.8L637.9,672.4L638.3,674.7L638.7,677.4L639.1,672.8L639.5,666.8L639.9,660.7L639.9,658.6L640.3,654.4L640.7,651.3L641.1,653.7L641.5,652.0L641.9,648.0L642.3,644.7L642.7,640.8L642.9,634.0L643.1,638.8L643.5,644.4L643.9,645.0L644.3,638.3L644.7,649.1L645.1,665.7L645.5,683.2L645.9,677.4L646.3,671.4L646.7,661.3L647.1,655.5L647.5,665.7L647.5,664.0L647.9,671.0L648.3,680.9L648.7,688.1L649.1,695.7L649.5,705.2L649.9,700.9L650.3,693.7L650.7,688.9L651.1,684.1L651.5,684.8L651.9,698.7L652.0,702.8L652.3,709.7L652.7,719.2L653.1,694.5L653.5,692.1L653.9,689.0L654.3,685.4L654.7,681.4L655.1,678.0L655.5,679.8L655.9,682.2L656.3,684.0L656.6,689.9L656.7,689.5L657.1,683.4L657.5,675.2L657.9,667.9L658.3,665.4L658.7,667.6L659.1,668.0L659.5,669.7L659.9,666.3L660.3,662.6L660.7,654.4L661.1,649.5L661.2,647.7L661.5,641.7L661.9,641.2L662.3,642.9L662.7,644.3L663.1,645.0L663.5,646.0L663.9,664.4L664.3,635.7L664.7,634.1L665.1,651.5L665.5,667.5L665.7,677.9L665.9,642.6L666.3,638.8L666.7,632.6L667.1,625.2L667.5,620.6L667.9,621.5L668.3,621.0L668.7,618.8L669.1,620.3L669.5,621.2L669.9,643.7L670.3,632.6L670.3,632.4L670.7,620.8L671.1,611.1L671.5,599.5L671.9,596.8L672.3,604.0L672.7,604.7L673.1,599.2L673.4,591.4L673.5,593.8L673.9,598.6L674.3,602.7L674.7,611.4L675.1,620.2L675.5,642.8L675.9,638.4L676.3,635.5L676.4,635.6L676.7,643.8L677.1,656.8L677.5,654.7L677.9,654.5L678.3,653.6L678.7,652.7L679.1,653.1L679.5,660.6L679.9,664.7L680.3,671.5L680.7,676.1L681.0,700.6L681.1,695.2L681.5,680.3L681.9,670.9L682.3,683.0L682.7,693.5L683.1,705.9L683.5,685.4L683.9,682.9L684.3,681.6L684.7,678.0L685.1,677.9L685.5,682.0L685.5,684.4L685.9,682.0L686.3,683.2L686.7,682.0L687.1,680.6L687.5,706.2L687.9,693.9L688.3,681.1L688.7,665.0L689.1,668.4L689.5,686.3L689.9,680.4L690.1,677.4L690.3,672.0L690.7,659.8L691.1,646.7L691.5,644.2L691.9,646.5L692.3,649.9L692.7,653.0L693.1,633.2L693.2,631.6L693.5,622.6L693.9,613.8L694.3,613.4L694.7,610.5L695.1,607.4L695.5,603.4L695.9,599.7L696.2,591.4L696.3,593.8L696.7,602.5L697.1,609.2L697.5,611.7L697.9,612.1L698.3,609.8L698.7,615.8L699.1,626.8L699.3,632.0L699.5,639.7L699.9,677.6L700.3,654.7L700.7,633.6L701.1,642.0L701.5,656.7L701.9,672.8L702.3,688.8L702.7,675.5L703.1,670.2L703.5,667.4L703.8,662.9L703.9,663.6L704.3,666.2L704.7,672.5L705.1,680.5L705.5,686.9L705.9,692.0L706.3,698.6L706.7,697.7L707.1,689.4L707.5,678.5L707.9,678.8L708.3,687.4L708.4,688.9L708.7,694.4L709.1,700.5L709.5,707.0L709.9,702.9L710.3,703.9L710.7,700.1L711.1,698.8L711.5,698.4L711.9,704.4L712.3,710.4L712.7,716.6L713.0,720.1L713.1,723.5L713.5,722.8L713.9,720.8L714.3,719.2L714.7,716.6L715.1,715.6L715.5,715.6L715.9,719.0L716.3,724.5L716.7,731.6L717.1,735.5L717.5,728.8L717.5,729.0L717.9,731.1L718.3,730.2L718.7,729.7L719.1,730.2L719.5,727.4L719.9,730.0L720.3,729.5L720.7,726.4L721.1,742.0L721.5,738.9L721.9,735.5L722.1,733.2L722.3,731.6L722.7,727.6L723.1,723.3L723.5,722.0L723.9,725.7L724.3,730.7L724.7,728.9L725.1,725.0L725.5,717.9L725.9,712.8L726.3,708.1L726.7,709.1L726.7,709.2L727.1,713.5L727.5,716.6L727.9,718.6L728.3,712.1L728.7,705.5L729.1,703.0L729.5,710.9L729.9,702.5L730.3,698.2L730.7,696.4L731.1,695.5L731.2,694.9L731.5,696.2L731.9,700.0L732.3,710.4L732.7,709.8L733.1,708.2L733.5,704.1L733.9,709.1L734.3,716.7L734.7,722.0L735.1,728.9L735.5,723.3L735.8,720.0L735.9,718.3L736.3,717.8L736.7,719.5L737.1,722.8L737.5,720.4L737.9,718.3L738.3,718.1L738.7,719.2L739.1,717.4L739.5,719.6L739.9,720.8L740.3,722.7L740.4,722.3L740.7,723.2L741.1,735.8L741.5,730.8L741.9,722.7L742.3,715.3L742.7,718.2L743.1,727.5L743.5,728.5L743.9,721.1L744.3,710.2L744.7,707.5L744.9,709.2L745.1,711.3L745.5,715.5L745.9,719.2L746.3,719.9L746.7,715.5L747.1,712.6L747.5,707.8L747.9,703.9L748.0,703.2L748.3,699.1L748.7,699.0L749.1,703.5L749.5,708.9L749.9,713.9L750.3,714.6L750.7,709.5L751.1,704.2L751.5,694.7L751.9,687.9L752.3,683.7L752.6,682.8L752.7,683.6L753.1,689.7L753.5,699.1L753.9,704.0L754.3,705.3L754.7,702.8L754.7,701.3L755.0,697.8L755.1,695.9L755.5,689.3L755.9,683.1L756.3,680.1L756.7,684.8L757.1,691.6L757.5,677.2L757.9,667.4L758.0,665.1L758.3,658.9L758.7,655.0L759.1,650.1L759.5,648.4L759.9,645.1L760.3,679.8L760.7,658.7L761.1,637.5L761.1,638.4L761.5,615.1L761.9,612.3L762.3,624.2L762.7,632.8L763.1,626.9L763.5,606.7L763.9,583.9L764.1,573.1L764.3,578.7L764.7,589.1L765.1,595.2L765.5,598.6L765.9,592.3L766.3,610.3L766.7,631.1L767.1,649.7L767.2,653.1L767.5,646.0L767.9,635.6L768.3,625.6L768.7,616.3L769.1,603.9L769.5,613.2L769.9,619.9L770.3,628.5L770.7,634.7L771.1,642.8L771.5,632.2L771.8,630.9L771.9,627.8L772.3,624.6L772.7,617.8L773.1,620.8L773.5,624.5L773.9,629.5L774.3,635.5L774.7,640.3L775.1,630.0L775.5,621.2L775.9,630.9L776.3,639.5L776.3,637.9L776.7,648.8L777.1,629.8L777.5,634.1L777.9,637.2L778.3,640.3L778.7,644.8L779.1,652.3L779.4,655.9L779.5,660.4L779.9,668.3L780.3,667.5L780.7,707.0L781.1,694.4L781.5,682.9L781.9,689.0L782.3,705.9L782.4,710.2L782.7,711.1L783.1,696.7L783.5,691.8L783.9,705.6L784.3,714.4L784.7,716.9L785.1,714.5L785.5,711.8L785.9,709.3L786.3,714.5L786.7,717.7L787.0,720.3L787.1,719.6L787.5,724.4L787.9,726.6L788.3,723.1L788.7,722.0L789.1,719.6L789.5,720.3L789.9,724.3L790.3,728.1L790.7,732.9L791.1,727.8L791.5,724.9L791.6,725.5L791.9,724.4L792.3,721.8L792.7,725.2L793.1,724.8L793.5,729.1L793.9,731.2L794.3,711.1L794.6,710.3L794.7,707.5L795.1,700.6L795.5,694.4L795.9,687.4L796.3,680.4L796.7,676.3L797.1,670.3L797.5,676.5L797.6,673.5L797.9,670.4L798.3,661.8L798.7,651.3L799.1,652.8L799.5,652.6L799.9,642.4L800.3,636.5L800.7,631.0L800.7,631.1L801.1,634.7L801.5,638.3L801.9,642.9L802.3,650.6L802.7,654.2L803.1,658.2L803.5,663.1L803.7,680.3L803.9,679.7L804.3,676.7L804.7,672.1L805.1,672.0L805.5,678.2L805.9,684.7L806.3,692.0L806.7,700.0L806.8,700.0L807.1,701.4L807.5,702.6L807.9,692.1L808.3,688.5L808.7,683.9L809.1,678.3L809.5,676.0L809.8,674.4L809.9,675.4L810.3,673.5L810.7,673.1L811.1,671.2L811.5,670.6L811.9,655.0L812.3,644.2L812.7,636.4L812.9,634.0L813.1,636.8L813.5,644.8L813.9,653.3L814.3,663.9L814.7,676.0L815.1,683.8L815.5,697.4L815.9,690.6L815.9,688.0L816.3,682.3L816.7,677.7L817.1,689.9L817.5,700.0L817.9,709.5L818.3,719.2L818.7,726.3L819.0,733.6L819.1,716.3L819.5,708.6L819.9,702.6L820.3,695.0L820.7,683.4L821.1,680.6L821.5,674.7L821.9,667.1L822.0,664.5L822.3,667.1L822.7,669.5L823.1,671.2L823.5,675.0L823.9,676.0L824.3,680.3L824.7,679.5L825.1,680.7L825.1,679.3L825.5,677.2L825.9,674.3L826.3,673.9L826.7,672.6L827.1,671.2L827.5,670.9L827.9,670.2L828.3,669.8L828.7,671.1L829.1,671.0L829.5,670.8L829.6,670.6L829.9,677.9L830.3,684.3L830.7,685.6L831.1,683.2L831.5,690.2L831.9,699.5L832.3,708.1L832.7,713.6L833.1,721.3L833.5,709.0L833.6,708.2L833.9,703.8L834.3,696.6L834.7,696.9L835.1,700.5L835.5,699.3L835.9,696.6L836.3,690.8L836.7,686.2L837.1,682.5L837.2,685.5L837.5,686.6L837.9,693.1L838.3,675.3L838.7,672.2L839.1,668.9L839.5,667.1L839.9,664.6L840.3,661.3L840.7,658.0L841.1,655.5L841.5,652.2L841.8,649.3L841.9,650.2L842.3,653.8L842.7,657.3L843.1,661.0L843.5,663.8L843.9,667.3L844.3,668.8L844.7,670.0L844.9,672.8L845.1,673.2L845.5,675.0L845.9,677.1L846.3,676.6L846.7,703.3L847.1,694.4L847.5,685.9L847.9,687.7L848.3,696.1L848.7,707.2L849.1,717.8L849.4,689.3L849.5,692.0L849.9,693.5L850.3,693.8L850.7,695.4L851.1,696.6L851.5,705.1L851.9,702.3L852.3,700.5L852.7,700.8L853.1,703.8L853.5,707.3L853.9,710.7L854.0,712.4L854.3,717.4L854.7,717.0L855.1,714.3L855.5,715.0L855.9,720.7L856.3,726.9L856.7,730.1L857.1,730.4L857.5,728.5L857.9,730.1L858.3,731.1L858.6,735.5L858.7,734.5L859.1,733.2L859.5,733.1L859.9,725.5L860.3,721.0L860.7,716.8L861.1,714.3L861.5,711.6L861.9,709.9L862.3,718.3L862.7,711.9L863.1,702.2L863.1,701.6L863.5,696.5L863.9,692.3L864.3,693.5L864.7,694.3L865.1,694.0L865.5,697.1L865.9,699.7L866.3,700.2L866.7,688.8L867.1,678.6L867.5,678.6L867.7,681.2L867.9,685.2L868.3,712.3L868.7,696.2L869.1,680.9L869.5,667.8L869.9,675.7L870.3,683.2L870.7,691.7L871.1,700.3L871.5,707.2L871.9,665.7L872.3,664.0L872.3,662.3L872.7,663.6L873.1,659.2L873.5,659.2L873.9,656.3L874.3,657.2L874.7,658.8L875.1,663.0L875.5,657.4L875.9,654.3L876.3,652.6L876.7,652.7L876.8,652.3L877.1,654.7L877.5,655.9L877.9,658.5L878.3,659.0L878.7,661.5L879.1,663.3L879.5,665.5L879.9,668.9L880.3,670.7L880.7,678.3L881.1,680.2L881.4,679.3L881.5,677.5L881.9,683.9L882.3,684.7L882.7,688.5L883.1,696.6L883.5,700.0L883.9,704.0L884.3,706.3L884.7,710.2L885.1,713.9L885.5,716.1L885.9,719.6L886.0,721.4L886.3,725.0L886.7,728.0L887.1,728.3L887.5,730.8L887.9,732.6L888.3,736.2L888.7,737.8L889.1,739.6L889.5,747.4L889.9,743.9L890.3,742.7L890.5,744.0L890.7,744.4L891.1,744.6L891.5,745.4L891.9,748.7L892.3,740.3L892.7,738.9L893.1,739.2L893.5,737.2L893.6,737.0L893.9,733.0L894.3,726.9L894.7,723.0L895.1,717.5L895.5,717.3L895.9,712.1L896.3,720.2L896.6,714.6L896.7,712.6L897.1,706.2L897.5,701.1L897.9,696.3L898.3,696.2L898.7,700.3L899.1,698.7L899.5,691.9L899.7,688.9L899.9,692.5L900.3,695.5L900.7,700.6L901.1,712.4L901.5,726.3L901.9,726.1L902.3,725.1L902.7,726.5L903.1,725.4L903.5,732.5L903.9,739.4L904.3,735.4L904.3,733.9L904.7,723.0L905.1,711.9L905.5,700.5L905.9,688.6L906.3,679.3L906.7,666.9L907.1,654.4L907.3,651.6L907.5,645.1L907.9,630.9L908.3,644.9L908.7,616.0L909.1,597.5L909.5,593.6L909.9,583.4L910.3,563.7L910.3,560.9L910.7,569.1L911.1,565.5L911.5,579.3L911.9,598.3L912.3,618.5L912.7,635.4L913.1,624.2L913.4,619.7L913.5,619.4L913.9,615.8L914.3,614.2L914.7,621.9L915.1,638.7L915.5,656.2L915.9,672.8L916.3,671.1L916.4,671.4L916.7,667.7L917.1,663.1L917.5,659.1L917.9,665.3L918.3,677.3L918.7,686.9L919.1,681.3L919.5,677.7L919.9,676.4L920.3,685.8L920.7,711.0L921.0,704.1L921.1,701.1L921.5,686.5L921.9,666.2L922.3,676.3L922.7,689.8L923.1,663.5L923.5,651.4L923.9,638.0L924.1,634.1L924.3,627.8L924.7,618.1L925.1,623.8L925.5,626.9L925.9,631.3L926.3,632.7L926.7,619.2L927.1,612.1L927.5,601.9L927.9,594.7L928.3,588.5L928.6,585.3L928.7,586.3L929.1,595.4L929.5,610.8L929.9,612.3L930.3,610.5L930.7,611.9L931.1,621.6L931.5,636.6L931.7,640.8L931.9,648.9L932.3,639.7L932.7,634.0L933.1,639.6L933.5,649.1L933.9,656.5L934.3,668.9L934.7,675.4L935.1,669.8L935.5,673.2L935.9,678.1L936.2,684.0L936.3,685.5L936.7,690.6L937.1,703.6L937.5,698.7L937.9,702.1L938.3,711.9L938.7,722.2L939.1,727.1L939.5,725.9L939.9,724.9L940.3,725.6L940.7,726.8L940.8,725.1L941.1,722.0L941.5,722.6L941.9,725.1L942.3,726.6L942.7,717.3L943.1,711.4L943.5,701.6L943.9,690.5L944.3,688.4L944.7,687.5L945.1,685.5L945.4,685.9L945.5,686.9L945.9,688.0L946.3,663.5L946.7,655.3L947.1,650.2L947.5,646.3L947.9,641.1L948.3,637.4L948.7,648.9L949.1,638.8L949.5,631.5L949.9,622.7L949.9,624.5L950.3,625.3L950.7,627.1L951.1,646.0L951.5,614.0L951.9,602.3L952.3,604.7L952.7,598.8L953.0,588.3L953.1,590.1L953.5,596.0L953.9,602.2L954.3,604.9L954.7,610.4L955.1,619.2L955.5,624.6L955.9,644.0L956.0,644.2L956.3,640.7L956.7,636.5L957.1,633.3L957.5,644.7L957.9,655.3L958.3,662.9L958.7,676.5L959.1,669.2L959.5,660.3L959.7,657.8L959.9,665.0L960.0,670.8L960.3,674.3L960.7,682.7L961.1,689.0L961.5,696.4L961.9,703.1L962.3,701.2L962.7,698.4L963.0,697.1L963.1,694.8L963.5,691.7L963.9,692.3L964.3,698.1L964.7,700.6L965.1,706.3L965.5,699.7L965.9,700.5L966.3,700.3L966.7,697.5L967.1,698.7L967.5,699.0L967.6,699.6L967.9,701.8L968.3,705.7L968.7,706.9L969.1,703.0L969.5,704.6L969.9,703.9L970.3,704.0L970.7,703.8L971.1,707.4L971.5,707.5L971.9,708.5L972.3,711.5L972.7,712.5L973.1,713.1L973.5,727.8L973.7,725.9L973.9,721.7L974.3,714.8L974.7,704.5L975.1,696.1L975.5,689.3L975.9,693.8L976.3,700.4L976.7,671.8L977.1,666.6L977.5,661.7L977.9,657.0L978.3,652.3L978.3,653.0L978.7,660.1L979.1,662.9L979.5,673.6L979.9,688.8L980.3,699.6L980.7,699.5L981.1,702.4L981.3,702.5L981.5,701.0L981.9,700.8L982.3,702.0L982.7,708.5L983.1,713.1L983.5,720.6L983.9,729.4L984.3,725.8L984.7,724.1L985.1,723.9L985.5,731.4L985.9,740.5L985.9,740.2L986.3,717.8L986.7,710.5L987.1,698.4L987.5,688.9L987.9,677.9L988.3,666.5L988.7,659.1L988.9,652.8L989.1,650.0L989.5,642.3L989.9,685.1L990.3,660.9L990.7,629.3L991.1,602.8L991.5,605.0L991.9,589.3L992.0,585.3L992.3,590.3L992.7,591.2L993.1,606.9L993.5,631.8L993.9,650.8L994.3,634.7L994.7,619.6L995.0,606.4L995.1,604.3L995.5,620.0L995.9,637.1L996.3,651.2L996.7,666.0L997.1,679.0L997.5,693.7L997.9,705.1L998.1,680.5L998.3,681.4L998.7,684.9L999.1,689.2L999.5,689.2L999.9,697.4L1000.3,703.8L1000.7,711.1L1001.1,724.9L1001.1,724.0L1001.5,714.2L1001.9,704.0L1002.3,696.7L1002.7,698.7L1003.1,699.1L1003.5,701.0L1003.9,685.5L1004.2,681.7L1004.3,679.7L1004.7,670.4L1005.1,660.8L1005.5,652.4L1005.9,648.3L1006.3,641.8L1006.7,634.9L1007.1,626.5L1007.2,621.8L1007.5,633.0L1007.9,642.8L1008.3,655.5L1008.7,675.6L1009.1,695.0L1009.5,698.6L1009.9,701.1L1010.3,706.0L1010.3,705.3L1010.7,692.4L1011.1,689.1L1011.5,694.5L1011.9,680.8L1012.3,668.8L1012.7,658.1L1013.1,650.3L1013.3,650.4L1013.5,649.1L1013.9,647.2L1014.3,645.5L1014.7,672.1L1015.1,646.3L1015.5,619.4L1015.9,599.5L1016.3,586.4L1016.4,585.3L1016.7,590.0L1017.1,604.5L1017.5,626.1L1017.9,656.9L1018.3,624.6L1018.7,625.7L1019.1,628.3L1019.4,625.9L1019.5,627.2L1019.9,629.0L1020.3,636.9L1020.7,646.7L1021.1,657.5L1021.5,667.8L1021.9,672.7L1022.3,671.3L1022.4,671.1L1022.7,661.3L1023.1,647.9L1023.5,643.2L1023.9,638.3L1024.3,629.8L1024.7,619.5L1025.1,606.9L1025.5,591.4L1025.5,591.7L1025.9,601.2L1026.3,601.9L1026.7,602.9L1027.1,631.5L1027.5,612.2L1027.9,615.6L1028.3,618.8L1028.5,619.4L1028.7,621.2L1029.1,627.3L1029.5,633.3L1029.9,640.8L1030.3,645.1L1030.7,679.8L1031.1,672.8L1031.5,665.5L1031.9,658.8L1032.3,667.5L1032.7,676.8L1033.1,690.9L1033.1,690.3L1033.5,694.4L1033.9,699.4L1034.3,704.5L1034.7,671.3L1035.1,661.4L1035.5,663.1L1035.9,665.4L1036.3,665.7L1036.7,692.5L1037.1,679.4L1037.5,666.4L1037.7,661.4L1037.9,652.5L1038.3,649.0L1038.7,659.9L1039.1,671.6L1039.5,614.6L1039.9,606.2L1040.3,595.8L1040.7,585.8L1040.7,585.3L1041.1,590.9L1041.5,597.2L1041.9,603.7L1042.3,611.7L1042.7,611.5L1043.1,617.6L1043.5,618.0L1043.8,623.3L1043.9,620.5L1044.3,613.8L1044.7,611.4L1045.1,608.9L1045.5,601.6L1045.9,597.3L1046.3,591.7L1046.7,616.0L1047.1,585.6L1047.5,576.0L1047.9,582.4L1048.3,592.9L1048.3,598.0L1048.7,566.2L1049.1,558.8L1049.5,551.2L1049.9,544.1L1050.3,537.2L1050.7,533.3L1051.1,528.6L1051.4,524.4L1051.5,527.4L1051.9,539.6L1052.3,556.1L1052.7,561.3L1053.1,560.3L1053.5,567.4L1053.9,579.5L1054.3,594.0L1054.4,598.5L1054.7,599.1L1055.1,573.7L1055.5,566.4L1055.9,556.9L1056.3,548.3L1056.7,543.2L1057.1,537.3L1057.5,530.5L1057.5,530.9L1057.9,538.0L1058.3,565.3L1058.7,572.6L1059.1,574.6L1059.5,565.7L1059.9,557.4L1060.3,565.4L1060.5,577.3L1060.7,586.8L1061.1,607.8L1061.5,627.7L1061.9,628.4L1062.3,602.8L1062.7,619.1L1063.1,639.5L1063.5,661.9L1063.6,665.4L1063.9,667.0L1064.3,657.2L1064.7,653.2L1065.1,658.7L1065.5,672.2L1065.9,682.6L1066.3,694.3L1066.6,701.0L1066.7,701.8L1067.1,675.2L1067.5,669.1L1067.9,660.0L1068.3,653.1L1068.7,643.9L1069.1,638.1L1069.5,631.0L1069.7,627.9L1069.9,630.1L1070.3,633.6L1070.7,637.1L1071.1,641.2L1071.5,645.3L1071.9,649.9L1072.3,651.8L1072.7,657.7L1073.1,659.0L1073.3,680.4L1073.5,673.2L1073.9,658.6L1074.3,641.8L1074.7,637.1L1075.1,636.9L1075.5,638.5L1075.9,634.7L1076.3,628.6L1076.7,608.6L1077.1,602.8L1077.3,600.5L1077.5,602.3L1077.9,604.3L1078.3,609.6L1078.7,611.4L1079.1,617.8L1079.5,660.6L1079.9,646.6L1080.3,633.6L1080.3,632.0L1080.7,622.5L1081.1,632.5L1081.5,641.6L1081.9,626.0L1082.3,613.6L1082.7,598.1L1083.1,578.0L1083.4,568.9L1083.5,565.9L1083.9,551.8L1084.3,560.2L1084.7,567.1L1085.1,571.9L1085.5,580.8L1085.9,551.9L1086.3,533.2L1086.4,530.5L1086.7,534.5L1087.1,544.1L1087.5,564.5L1087.9,592.2L1088.3,616.9L1088.7,636.8L1089.1,622.5L1089.5,615.9L1089.5,614.3L1089.9,612.7L1090.3,609.8L1090.7,609.1L1091.1,621.9L1091.5,651.3L1091.9,677.2L1092.3,665.4L1092.5,665.5L1092.7,660.9L1093.1,649.4L1093.5,649.8L1093.9,653.4L1094.3,656.2L1094.7,658.3L1095.1,661.6L1095.5,664.5L1095.5,674.9L1095.9,666.7L1096.3,658.3L1096.7,650.0L1097.1,641.8L1097.5,630.8L1097.9,623.6L1098.3,622.1L1098.6,621.8L1098.7,625.1L1099.1,640.8L1099.5,663.7L1099.9,660.0L1100.3,661.8L1100.7,674.8L1101.1,685.8L1101.5,696.2L1101.9,707.3L1102.3,707.7L1102.6,712.6L1102.7,707.8L1103.1,689.8L1103.5,673.1L1103.9,657.9L1104.3,643.7L1104.7,632.0L1105.1,622.2L1105.5,598.4L1105.6,596.0L1105.9,592.1L1106.3,585.1L1106.7,577.0L1107.1,569.7L1107.5,561.5L1107.9,551.3L1108.3,545.1L1108.6,539.6L1108.7,539.9L1109.1,543.5L1109.5,568.5L1109.9,567.2L1110.3,561.2L1110.7,558.6L1111.1,581.9L1111.5,605.3L1111.9,604.2L1112.3,596.8L1112.3,596.7L1112.7,593.4L1113.1,591.6L1113.5,590.3L1113.9,589.8L1114.3,593.6L1114.7,614.5L1115.1,635.4L1115.3,645.2L1115.5,652.4L1115.9,646.4L1116.3,633.6L1116.7,627.9L1117.1,640.4L1117.5,650.7L1117.9,663.5L1118.3,663.2L1118.4,665.6L1118.7,663.0L1119.1,665.5L1119.5,664.2L1119.9,664.8L1120.3,663.0L1120.7,664.8L1121.1,667.4L1121.4,676.1L1121.5,678.4L1121.9,686.5L1122.3,688.7L1122.7,687.3L1123.1,687.7L1123.5,687.6L1123.9,687.6L1124.3,687.4L1124.7,694.7L1125.1,702.2L1125.5,723.6L1125.9,718.5L1126.0,716.1L1126.3,707.2L1126.7,693.1L1127.1,676.0L1127.5,673.9L1127.9,671.8L1128.3,666.9L1128.7,658.3L1129.1,646.2L1129.1,647.6L1129.5,661.4L1129.9,657.1L1130.3,661.4L1130.7,663.6L1131.1,664.4L1131.5,666.1L1131.9,665.3L1132.1,668.1L1132.3,670.9L1132.7,676.2L1133.1,680.7L1133.5,675.1L1133.9,677.7L1134.3,679.9L1134.7,680.6L1135.1,682.4L1135.5,682.2L1135.9,683.4L1136.3,688.1L1136.7,690.9L1137.1,693.2L1137.5,710.9L1137.9,699.5L1138.2,690.0L1138.3,691.1L1138.7,693.9L1139.1,696.7L1139.5,701.8L1139.9,695.6L1140.3,679.2L1140.7,664.5L1141.1,646.4L1141.2,646.1L1141.5,650.0L1141.9,657.9L1142.3,666.6L1142.7,673.8L1143.1,671.2L1143.5,658.7L1143.9,645.2L1144.3,630.5L1144.7,616.7L1145.1,622.5L1145.5,619.0L1145.8,609.7L1145.9,613.8L1146.3,630.7L1146.7,639.5L1147.1,641.0L1147.5,634.1L1147.9,626.0L1148.3,636.8L1148.7,654.8L1148.9,660.9L1149.1,665.3L1149.5,672.6L1149.9,629.1L1150.3,615.9L1150.7,600.6L1151.1,583.7L1151.5,569.4L1151.9,565.6L1151.9,564.9L1152.3,572.5L1152.7,549.3L1153.1,543.0L1153.5,536.5L1153.9,527.3L1154.3,518.9L1154.7,513.9L1154.9,513.3L1155.1,510.9L1155.5,512.2L1155.9,508.2L1156.3,507.2L1156.7,522.1L1157.1,501.3L1157.5,489.1L1157.9,486.3L1158.0,484.8L1158.3,495.5L1158.7,515.1L1159.1,522.9L1159.5,520.7L1159.9,511.4L1160.3,526.3L1160.7,543.9L1161.0,554.9L1161.1,555.7L1161.5,570.9L1161.9,571.2L1162.3,566.2L1162.7,561.1L1163.1,579.3L1163.5,593.5L1163.9,608.9L1164.1,641.0L1164.3,633.7L1164.7,622.5L1165.1,612.4L1165.5,615.5L1165.9,647.1L1166.3,635.9L1166.7,639.0L1167.1,639.7L1167.1,642.2L1167.5,637.7L1167.9,638.0L1168.3,639.8L1168.7,685.0L1169.1,663.0L1169.5,641.8L1169.9,618.5L1170.2,637.0L1170.3,649.3L1170.7,622.8L1171.1,618.6L1171.5,613.5L1171.9,611.6L1172.3,609.7L1172.3,609.7L1172.5,609.9L1172.5,778.0Z" fill="#34618f" stroke="#34618f" stroke-width="0.5" stroke-linejoin="round"/></g></g>
<line x1="144.7" y1="122.8" x2="144.7" y2="780.0" stroke="#000" stroke-width="4.2"/>
<line x1="142.7" y1="778.0" x2="1174.3" y2="778.0" stroke="#000" stroke-width="3.9"/>
<line x1="135.39999999999998" y1="778.0" x2="154.1" y2="778.0" stroke="#000" stroke-width="3.4" stroke-linecap="round"/>
<line x1="137.7" y1="764.9" x2="144.7" y2="764.9" stroke="#000" stroke-width="3.2" stroke-linecap="round"/>
<line x1="137.7" y1="751.9" x2="144.7" y2="751.9" stroke="#000" stroke-width="3.2" stroke-linecap="round"/>
<line x1="137.7" y1="738.8" x2="144.7" y2="738.8" stroke="#000" stroke-width="3.2" stroke-linecap="round"/>
<line x1="137.7" y1="725.7" x2="144.7" y2="725.7" stroke="#000" stroke-width="3.2" stroke-linecap="round"/>
<line x1="135.39999999999998" y1="712.6" x2="154.1" y2="712.6" stroke="#000" stroke-width="3.4" stroke-linecap="round"/>
<line x1="137.7" y1="699.6" x2="144.7" y2="699.6" stroke="#000" stroke-width="3.2" stroke-linecap="round"/>
<line x1="137.7" y1="686.5" x2="144.7" y2="686.5" stroke="#000" stroke-width="3.2" stroke-linecap="round"/>
<line x1="137.7" y1="673.4" x2="144.7" y2="673.4" stroke="#000" stroke-width="3.2" stroke-linecap="round"/>
<line x1="137.7" y1="660.4" x2="144.7" y2="660.4" stroke="#000" stroke-width="3.2" stroke-linecap="round"/>
<line x1="135.39999999999998" y1="647.3" x2="154.1" y2="647.3" stroke="#000" stroke-width="3.4" stroke-linecap="round"/>
<line x1="137.7" y1="634.2" x2="144.7" y2="634.2" stroke="#000" stroke-width="3.2" stroke-linecap="round"/>
<line x1="137.7" y1="621.2" x2="144.7" y2="621.2" stroke="#000" stroke-width="3.2" stroke-linecap="round"/>
<line x1="137.7" y1="608.1" x2="144.7" y2="608.1" stroke="#000" stroke-width="3.2" stroke-linecap="round"/>
<line x1="137.7" y1="595.0" x2="144.7" y2="595.0" stroke="#000" stroke-width="3.2" stroke-linecap="round"/>
<line x1="135.39999999999998" y1="582.0" x2="154.1" y2="582.0" stroke="#000" stroke-width="3.4" stroke-linecap="round"/>
<line x1="137.7" y1="568.9" x2="144.7" y2="568.9" stroke="#000" stroke-width="3.2" stroke-linecap="round"/>
<line x1="137.7" y1="555.8" x2="144.7" y2="555.8" stroke="#000" stroke-width="3.2" stroke-linecap="round"/>
<line x1="137.7" y1="542.7" x2="144.7" y2="542.7" stroke="#000" stroke-width="3.2" stroke-linecap="round"/>
<line x1="137.7" y1="529.7" x2="144.7" y2="529.7" stroke="#000" stroke-width="3.2" stroke-linecap="round"/>
<line x1="135.39999999999998" y1="516.6" x2="154.1" y2="516.6" stroke="#000" stroke-width="3.4" stroke-linecap="round"/>
<line x1="137.7" y1="503.5" x2="144.7" y2="503.5" stroke="#000" stroke-width="3.2" stroke-linecap="round"/>
<line x1="137.7" y1="490.5" x2="144.7" y2="490.5" stroke="#000" stroke-width="3.2" stroke-linecap="round"/>
<line x1="137.7" y1="477.4" x2="144.7" y2="477.4" stroke="#000" stroke-width="3.2" stroke-linecap="round"/>
<line x1="137.7" y1="464.3" x2="144.7" y2="464.3" stroke="#000" stroke-width="3.2" stroke-linecap="round"/>
<line x1="135.39999999999998" y1="451.2" x2="154.1" y2="451.2" stroke="#000" stroke-width="3.4" stroke-linecap="round"/>
<line x1="137.7" y1="438.2" x2="144.7" y2="438.2" stroke="#000" stroke-width="3.2" stroke-linecap="round"/>
<line x1="137.7" y1="425.1" x2="144.7" y2="425.1" stroke="#000" stroke-width="3.2" stroke-linecap="round"/>
<line x1="137.7" y1="412.0" x2="144.7" y2="412.0" stroke="#000" stroke-width="3.2" stroke-linecap="round"/>
<line x1="137.7" y1="399.0" x2="144.7" y2="399.0" stroke="#000" stroke-width="3.2" stroke-linecap="round"/>
<line x1="135.39999999999998" y1="385.9" x2="154.1" y2="385.9" stroke="#000" stroke-width="3.4" stroke-linecap="round"/>
<line x1="137.7" y1="372.8" x2="144.7" y2="372.8" stroke="#000" stroke-width="3.2" stroke-linecap="round"/>
<line x1="137.7" y1="359.8" x2="144.7" y2="359.8" stroke="#000" stroke-width="3.2" stroke-linecap="round"/>
<line x1="137.7" y1="346.7" x2="144.7" y2="346.7" stroke="#000" stroke-width="3.2" stroke-linecap="round"/>
<line x1="137.7" y1="333.6" x2="144.7" y2="333.6" stroke="#000" stroke-width="3.2" stroke-linecap="round"/>
<line x1="135.39999999999998" y1="320.6" x2="154.1" y2="320.6" stroke="#000" stroke-width="3.4" stroke-linecap="round"/>
<line x1="137.7" y1="307.5" x2="144.7" y2="307.5" stroke="#000" stroke-width="3.2" stroke-linecap="round"/>
<line x1="137.7" y1="294.4" x2="144.7" y2="294.4" stroke="#000" stroke-width="3.2" stroke-linecap="round"/>
<line x1="137.7" y1="281.3" x2="144.7" y2="281.3" stroke="#000" stroke-width="3.2" stroke-linecap="round"/>
<line x1="137.7" y1="268.3" x2="144.7" y2="268.3" stroke="#000" stroke-width="3.2" stroke-linecap="round"/>
<line x1="135.39999999999998" y1="255.2" x2="154.1" y2="255.2" stroke="#000" stroke-width="3.4" stroke-linecap="round"/>
<line x1="137.7" y1="242.1" x2="144.7" y2="242.1" stroke="#000" stroke-width="3.2" stroke-linecap="round"/>
<line x1="137.7" y1="229.1" x2="144.7" y2="229.1" stroke="#000" stroke-width="3.2" stroke-linecap="round"/>
<line x1="137.7" y1="216.0" x2="144.7" y2="216.0" stroke="#000" stroke-width="3.2" stroke-linecap="round"/>
<line x1="137.7" y1="202.9" x2="144.7" y2="202.9" stroke="#000" stroke-width="3.2" stroke-linecap="round"/>
<line x1="135.39999999999998" y1="189.9" x2="154.1" y2="189.9" stroke="#000" stroke-width="3.4" stroke-linecap="round"/>
<line x1="137.7" y1="176.8" x2="144.7" y2="176.8" stroke="#000" stroke-width="3.2" stroke-linecap="round"/>
<line x1="137.7" y1="163.7" x2="144.7" y2="163.7" stroke="#000" stroke-width="3.2" stroke-linecap="round"/>
<line x1="137.7" y1="150.6" x2="144.7" y2="150.6" stroke="#000" stroke-width="3.2" stroke-linecap="round"/>
<line x1="137.7" y1="137.6" x2="144.7" y2="137.6" stroke="#000" stroke-width="3.2" stroke-linecap="round"/>
<line x1="135.39999999999998" y1="124.5" x2="154.1" y2="124.5" stroke="#000" stroke-width="3.4" stroke-linecap="round"/>
<line x1="144.7" y1="778.0" x2="144.7" y2="783.0" stroke="#000" stroke-width="3.6" stroke-linecap="round"/>
<line x1="230.3" y1="778.0" x2="230.3" y2="783.0" stroke="#000" stroke-width="3.6" stroke-linecap="round"/>
<line x1="316.0" y1="778.0" x2="316.0" y2="783.0" stroke="#000" stroke-width="3.6" stroke-linecap="round"/>
<line x1="401.6" y1="778.0" x2="401.6" y2="783.0" stroke="#000" stroke-width="3.6" stroke-linecap="round"/>
<line x1="487.3" y1="778.0" x2="487.3" y2="783.0" stroke="#000" stroke-width="3.6" stroke-linecap="round"/>
<line x1="572.9" y1="778.0" x2="572.9" y2="783.0" stroke="#000" stroke-width="3.6" stroke-linecap="round"/>
<line x1="658.6" y1="778.0" x2="658.6" y2="783.0" stroke="#000" stroke-width="3.6" stroke-linecap="round"/>
<line x1="744.2" y1="778.0" x2="744.2" y2="783.0" stroke="#000" stroke-width="3.6" stroke-linecap="round"/>
<line x1="829.9" y1="778.0" x2="829.9" y2="783.0" stroke="#000" stroke-width="3.6" stroke-linecap="round"/>
<line x1="915.5" y1="778.0" x2="915.5" y2="783.0" stroke="#000" stroke-width="3.6" stroke-linecap="round"/>
<line x1="1001.2" y1="778.0" x2="1001.2" y2="783.0" stroke="#000" stroke-width="3.6" stroke-linecap="round"/>
<line x1="1086.8" y1="778.0" x2="1086.8" y2="783.0" stroke="#000" stroke-width="3.6" stroke-linecap="round"/>
<line x1="1172.5" y1="778.0" x2="1172.5" y2="783.0" stroke="#000" stroke-width="3.6" stroke-linecap="round"/>
<text transform="translate(119.5,788.3) scale(1,1.075)" text-anchor="end" font-size="28.8" font-weight="700">0</text>
<text transform="translate(119.5,722.9) scale(1,1.075)" text-anchor="end" font-size="28.8" font-weight="700">10</text>
<text transform="translate(119.5,657.6) scale(1,1.075)" text-anchor="end" font-size="28.8" font-weight="700">20</text>
<text transform="translate(119.5,592.2) scale(1,1.075)" text-anchor="end" font-size="28.8" font-weight="700">30</text>
<text transform="translate(119.5,526.9) scale(1,1.075)" text-anchor="end" font-size="28.8" font-weight="700">40</text>
<text transform="translate(119.5,461.6) scale(1,1.075)" text-anchor="end" font-size="28.8" font-weight="700">50</text>
<text transform="translate(119.5,396.2) scale(1,1.075)" text-anchor="end" font-size="28.8" font-weight="700">60</text>
<text transform="translate(119.5,330.9) scale(1,1.075)" text-anchor="end" font-size="28.8" font-weight="700">70</text>
<text transform="translate(119.5,265.5) scale(1,1.075)" text-anchor="end" font-size="28.8" font-weight="700">80</text>
<text transform="translate(119.5,200.2) scale(1,1.075)" text-anchor="end" font-size="28.8" font-weight="700">90</text>
<text transform="translate(119.5,134.8) scale(1,1.075)" text-anchor="end" font-size="28.8" font-weight="700">100</text>
<text x="187.8" y="807.3" text-anchor="middle" font-size="22.3" font-weight="700">Jan</text>
<text x="273.5" y="807.3" text-anchor="middle" font-size="22.3" font-weight="700">Feb</text>
<text x="359.1" y="807.3" text-anchor="middle" font-size="22.3" font-weight="700">Mar</text>
<text x="444.8" y="807.3" text-anchor="middle" font-size="22.3" font-weight="700">Apr</text>
<text x="530.4" y="807.3" text-anchor="middle" font-size="22.3" font-weight="700">May</text>
<text x="616.1" y="807.3" text-anchor="middle" font-size="22.3" font-weight="700">Jun</text>
<text x="701.7" y="807.3" text-anchor="middle" font-size="22.3" font-weight="700">Jul</text>
<text x="787.4" y="807.3" text-anchor="middle" font-size="22.3" font-weight="700">Aug</text>
<text x="873.0" y="807.3" text-anchor="middle" font-size="22.3" font-weight="700">Sep</text>
<text x="958.7" y="807.3" text-anchor="middle" font-size="22.3" font-weight="700">Oct</text>
<text x="1044.3" y="807.3" text-anchor="middle" font-size="22.3" font-weight="700">Nov</text>
<text x="1130.0" y="807.3" text-anchor="middle" font-size="22.3" font-weight="700">Dec</text>
<text x="659.3" y="851" text-anchor="middle" font-size="32.6" font-weight="700">Year 2016</text>
<text transform="translate(46.3,652) rotate(-90)" font-size="32.6" font-weight="700">Normalized power in % P<tspan font-size="20.5" dy="6.5">N</tspan></text>
<text x="1050.7" y="114.2" font-size="14.9" fill="#9a9a9a" textLength="121" lengthAdjust="spacingAndGlyphs">Hourly resolution</text>
<text x="1053" y="852.2" font-size="15" fill="#989898" textLength="137.5" lengthAdjust="spacingAndGlyphs"><tspan font-weight="700">Source:</tspan> ENTSO-E</text>
<rect x="573.5" y="176.5" width="170.5" height="92.5" rx="13" ry="13" fill="#fff" stroke="#7d7d7d" stroke-width="1.3"/>
<rect x="599.5" y="200.5" width="17" height="16.5" fill="#2f5f93"/>
<rect x="599.5" y="229.5" width="17" height="16.5" fill="#f79646"/>
<text x="628.5" y="216.5" font-size="23.5" fill="#3b5f86">Onshore</text>
<text x="628.5" y="245.5" font-size="23.5" fill="#f2a466">Offshore</text>
</svg>
<div style="position:absolute;left:1184.5px;top:124.3px;width:31px;height:20px"><svg class="flag" width="31" height="20" viewBox="0 0 31 20"><rect x="0" y="0.00" width="31" height="6.97" fill="#000"/><rect x="0" y="6.67" width="31" height="6.97" fill="#dd0000"/><rect x="0" y="13.33" width="31" height="6.97" fill="#ffce00"/><rect x="0.4" y="0.4" width="30.2" height="19.2" fill="none" stroke="rgba(60,60,60,0.45)" stroke-width="0.8"/></svg></div>
<div style="position:absolute;left:1184.5px;top:161.5px;width:31px;height:20px"><svg class="flag" width="31" height="20" viewBox="0 0 31 20"><rect width="31" height="20" fill="#d01c3a"/><rect x="8.75" y="0" width="3.5" height="20" fill="#fff"/><rect x="0" y="8.25" width="31" height="3.5" fill="#fff"/><rect x="0.4" y="0.4" width="30.2" height="19.2" fill="none" stroke="rgba(60,60,60,0.45)" stroke-width="0.8"/></svg></div>
<div style="position:absolute;left:1184.5px;top:198.7px;width:31px;height:20px"><svg class="flag" width="31" height="20" viewBox="0 0 31 20"><rect x="0" y="0.00" width="31" height="10.30" fill="#fff"/><rect x="0" y="10.00" width="31" height="10.30" fill="#dc143c"/><rect x="0.4" y="0.4" width="30.2" height="19.2" fill="none" stroke="rgba(60,60,60,0.45)" stroke-width="0.8"/></svg></div>
<div style="position:absolute;left:1184.5px;top:236.0px;width:31px;height:20px"><svg class="flag" width="31" height="20" viewBox="0 0 31 20"><rect x="0" y="0.00" width="31" height="10.30" fill="#fff"/><rect x="0" y="10.00" width="31" height="10.30" fill="#e0242a"/><polygon points="0,0 14.879999999999999,10.0 0,20" fill="#1b4a73"/><rect x="0.4" y="0.4" width="30.2" height="19.2" fill="none" stroke="rgba(60,60,60,0.45)" stroke-width="0.8"/></svg></div>
<div style="position:absolute;left:1184.5px;top:273.2px;width:31px;height:20px"><svg class="flag" width="31" height="20" viewBox="0 0 31 20"><rect x="0" y="0.00" width="31" height="6.97" fill="#e03040"/><rect x="0" y="6.67" width="31" height="6.97" fill="#fff"/><rect x="0" y="13.33" width="31" height="6.97" fill="#e03040"/><rect x="0.4" y="0.4" width="30.2" height="19.2" fill="none" stroke="rgba(60,60,60,0.45)" stroke-width="0.8"/></svg></div>
<div style="position:absolute;left:1184.5px;top:310.4px;width:31px;height:20px"><svg class="flag" width="31" height="20" viewBox="0 0 31 20"><rect x="0.00" y="0" width="10.63" height="20" fill="#1f3fa0"/><rect x="10.33" y="0" width="10.63" height="20" fill="#fff"/><rect x="20.67" y="0" width="10.63" height="20" fill="#ee2436"/><rect x="0.4" y="0.4" width="30.2" height="19.2" fill="none" stroke="rgba(60,60,60,0.45)" stroke-width="0.8"/></svg></div>
<div style="position:absolute;left:1184.5px;top:347.6px;width:31px;height:20px"><svg class="flag" width="31" height="20" viewBox="0 0 31 20"><rect x="0.00" y="0" width="10.63" height="20" fill="#000"/><rect x="10.33" y="0" width="10.63" height="20" fill="#fdda24"/><rect x="20.67" y="0" width="10.63" height="20" fill="#ee2a35"/><rect x="0.4" y="0.4" width="30.2" height="19.2" fill="none" stroke="rgba(60,60,60,0.45)" stroke-width="0.8"/></svg></div>
<div style="position:absolute;left:1184.5px;top:384.8px;width:31px;height:20px"><svg class="flag" width="31" height="20" viewBox="0 0 31 20"><rect x="0" y="0.00" width="31" height="6.97" fill="#ae1c28"/><rect x="0" y="6.67" width="31" height="6.97" fill="#fff"/><rect x="0" y="13.33" width="31" height="6.97" fill="#21468b"/><rect x="0.4" y="0.4" width="30.2" height="19.2" fill="none" stroke="rgba(60,60,60,0.45)" stroke-width="0.8"/></svg></div>
<div style="position:absolute;left:1184.5px;top:422.1px;width:31px;height:20px"><svg class="flag" width="31" height="20" viewBox="0 0 31 20"><rect width="31" height="20" fill="#1f78a8"/><rect x="8.5" y="0" width="4" height="20" fill="#f4d54a"/><rect x="0" y="8.0" width="31" height="4" fill="#f4d54a"/><rect x="0.4" y="0.4" width="30.2" height="19.2" fill="none" stroke="rgba(60,60,60,0.45)" stroke-width="0.8"/></svg></div>
<div style="position:absolute;left:1184.5px;top:459.3px;width:31px;height:20px"><svg class="flag" width="31" height="20" viewBox="0 0 31 20"><rect width="31" height="20" fill="#fff"/><rect x="7.75" y="0" width="5.5" height="20" fill="#1c3f7c"/><rect x="0" y="7.25" width="31" height="5.5" fill="#1c3f7c"/><rect x="0.4" y="0.4" width="30.2" height="19.2" fill="none" stroke="rgba(60,60,60,0.45)" stroke-width="0.8"/></svg></div>
<div style="position:absolute;left:1184.5px;top:496.5px;width:31px;height:20px"><svg class="flag" width="31" height="20" viewBox="0 0 31 20"><rect x="0.00" y="0" width="10.63" height="20" fill="#0b2a7a"/><rect x="10.33" y="0" width="10.63" height="20" fill="#fcd116"/><rect x="20.67" y="0" width="10.63" height="20" fill="#ce1126"/><rect x="0.4" y="0.4" width="30.2" height="19.2" fill="none" stroke="rgba(60,60,60,0.45)" stroke-width="0.8"/></svg></div>
<div style="position:absolute;left:1184.5px;top:533.7px;width:31px;height:20px"><svg class="flag" width="31" height="20" viewBox="0 0 31 20"><rect x="0" y="0.00" width="31" height="2.42" fill="#3f84c4"/><rect x="0" y="2.22" width="31" height="2.42" fill="#fff"/><rect x="0" y="4.44" width="31" height="2.42" fill="#3f84c4"/><rect x="0" y="6.67" width="31" height="2.42" fill="#fff"/><rect x="0" y="8.89" width="31" height="2.42" fill="#3f84c4"/><rect x="0" y="11.11" width="31" height="2.42" fill="#fff"/><rect x="0" y="13.33" width="31" height="2.42" fill="#3f84c4"/><rect x="0" y="15.56" width="31" height="2.42" fill="#fff"/><rect x="0" y="17.78" width="31" height="2.42" fill="#3f84c4"/><rect x="0" y="0" width="11.1" height="11.11" fill="#3f84c4"/><rect x="4.4" y="0" width="2.3" height="11.11" fill="#fff"/><rect x="0" y="4.44" width="11.1" height="2.22" fill="#fff"/><rect x="0.4" y="0.4" width="30.2" height="19.2" fill="none" stroke="rgba(60,60,60,0.45)" stroke-width="0.8"/></svg></div>
<div style="position:absolute;left:1184.5px;top:570.9px;width:31px;height:20px"><svg class="flag" width="31" height="20" viewBox="0 0 31 20"><rect x="0.00" y="0" width="10.63" height="20" fill="#1f9a55"/><rect x="10.33" y="0" width="10.63" height="20" fill="#fff"/><rect x="20.67" y="0" width="10.63" height="20" fill="#d2233c"/><rect x="0.4" y="0.4" width="30.2" height="19.2" fill="none" stroke="rgba(60,60,60,0.45)" stroke-width="0.8"/></svg></div>
<div style="position:absolute;left:1184.5px;top:608.2px;width:31px;height:20px"><svg class="flag" width="31" height="20" viewBox="0 0 31 20"><rect width="31" height="20" fill="#c8202c"/><rect y="5.0" width="31" height="10.0" fill="#fbc531"/><ellipse cx="9.5" cy="10" rx="2.6" ry="3" fill="#b5502a"/><rect x="0.4" y="0.4" width="30.2" height="19.2" fill="none" stroke="rgba(60,60,60,0.45)" stroke-width="0.8"/></svg></div>
<div style="position:absolute;left:1184.5px;top:645.4px;width:31px;height:20px"><svg class="flag" width="31" height="20" viewBox="0 0 31 20"><rect width="31" height="20" fill="#f01822"/><rect width="12.4" height="20" fill="#16803c"/><circle cx="12.4" cy="10" r="4.3" fill="#f3d33a"/><circle cx="12.4" cy="10" r="2.6" fill="#e8e0d8"/><circle cx="12.4" cy="10" r="1.5" fill="#d8323a"/><rect x="0.4" y="0.4" width="30.2" height="19.2" fill="none" stroke="rgba(60,60,60,0.45)" stroke-width="0.8"/></svg></div>
<div style="position:absolute;left:1184.5px;top:682.6px;width:31px;height:20px"><svg class="flag" width="31" height="20" viewBox="0 0 31 20"><rect x="0.00" y="0" width="10.63" height="20" fill="#27a468"/><rect x="10.33" y="0" width="10.63" height="20" fill="#fff"/><rect x="20.67" y="0" width="10.63" height="20" fill="#f38a42"/><rect x="0.4" y="0.4" width="30.2" height="19.2" fill="none" stroke="rgba(60,60,60,0.45)" stroke-width="0.8"/></svg></div>
<div style="position:absolute;left:1184.5px;top:719.8px;width:31px;height:20px"><svg class="flag" width="31" height="20" viewBox="0 0 31 20"><rect width="31" height="20" fill="#23356f"/><path d="M0,0L31,20M31,0L0,20" stroke="#fff" stroke-width="4.2"/><path d="M0,0L31,20M31,0L0,20" stroke="#d4213d" stroke-width="1.5"/><path d="M15.5,0V20M0,10.0H31" stroke="#fff" stroke-width="6.4"/><path d="M15.5,0V20M0,10.0H31" stroke="#d4213d" stroke-width="3.8"/><rect x="0.4" y="0.4" width="30.2" height="19.2" fill="none" stroke="rgba(60,60,60,0.45)" stroke-width="0.8"/></svg></div>
<div style="position:absolute;left:1184.5px;top:757.0px;width:31px;height:20px"><svg class="flag" width="31" height="20" viewBox="0 0 31 20"><rect width="31" height="20" fill="#e8394a"/><rect x="8.0" y="0" width="6" height="20" fill="#fff"/><rect x="0" y="7.0" width="31" height="6" fill="#fff"/><rect x="9.5" y="0" width="3" height="20" fill="#1f3d7a"/><rect x="0" y="8.5" width="31" height="3" fill="#1f3d7a"/><rect x="0.4" y="0.4" width="30.2" height="19.2" fill="none" stroke="rgba(60,60,60,0.45)" stroke-width="0.8"/></svg></div>

<div id="ftr"></div>
<div id="slide">Slide 45</div>
<div class="ico" style="left:1060.8px;background:linear-gradient(#fff0 0%,#fff0 100%),linear-gradient(#3f6aab,#2a4f8e)"><svg width="28" height="28" viewBox="0 0 27 27"><path d="M6.3,21.5 L7.8,6.5 H14.2 L15.4,21.5 Z" fill="#fff" opacity=".96"/><path d="M11,23 V17.5 Q11,11.6 17.6,11.6 Q24.3,11.6 24.3,17.5 V23 Z" fill="#fff" opacity=".97"/><circle cx="17.6" cy="17.6" r="3.4" fill="#c3cfe3"/><circle cx="17.6" cy="17.6" r="1.5" fill="#eef2f8"/></svg><i></i></div>
<div class="ico" style="left:1091.2px;background:linear-gradient(#fff0 0%,#fff0 100%),linear-gradient(#c4404f,#a02838)"><svg width="28" height="28" viewBox="0 0 27 27"><path d="M4.8,23 V15 H7.4 V5.5 H9.6 V13 H11.5 L12.5,7 H20.5 L21.8,19 V23 Z" fill="#fff" opacity=".96"/><rect x="7" y="17.5" width="10" height="1.5" fill="#d9a0a8"/><rect x="13.8" y="9" width="5" height="4" fill="#c9828d" opacity=".7"/></svg><i></i></div>
<div class="ico" style="left:1121.6px;background:linear-gradient(#fff0 0%,#fff0 100%),linear-gradient(#6fb65a,#52a042)"><svg width="28" height="28" viewBox="0 0 27 27"><path d="M9,23 V9 M9,9 L3.5,13.5 M9,9 L14.5,12.5 M9,9 L9,3" stroke="#fff" stroke-width="1.5" fill="none"/><circle cx="18.7" cy="8.6" r="2.3" fill="#fff"/><path d="M18.7,4v9.2M14.1,8.6h9.2M15.5,5.4l6.4,6.4M21.9,5.4l-6.4,6.4" stroke="#fff" stroke-width="1"/><path d="M11,19.8H24M11,22.5H24" stroke="#fff" stroke-width="1.4"/></svg><i></i></div>
<div class="ico" style="left:1152.0px;background:linear-gradient(#fff0 0%,#fff0 100%),linear-gradient(#f5b145,#ec9a30)"><svg width="28" height="28" viewBox="0 0 27 27"><circle cx="12.3" cy="6.7" r="2.3" fill="#fff"/><path d="M8.5,14 Q9,9.6 12.3,9.6 Q15.6,9.6 16,14 Z" fill="#fff" opacity=".95"/><path d="M3.4,23 V18 Q3.4,12.3 9.2,12.3 Q14.9,12.3 14.9,18 V23 Z" fill="#fff" opacity=".96"/><path d="M15.6,23 L17.6,9.7 H21.6 L23.8,23 Z" fill="#fff" opacity=".96"/><circle cx="9.2" cy="18" r="2.6" fill="#f3cf95"/></svg><i></i></div>
<div class="ico" style="left:1182.4px;background:linear-gradient(#fff0 0%,#fff0 100%),linear-gradient(#9f417a,#80295e)"><svg width="28" height="28" viewBox="0 0 27 27"><circle cx="18.5" cy="6.5" r="2.4" fill="#fff"/><path d="M15,22 V12 L13,14 V11 L17,9 H20 L24,12 V15 L22,13 V22 Z" fill="#fff" opacity=".95"/><path d="M5,22 H13 V20 H5 Z M7,18 H11 V16 H7 Z M7,6 L10,5 L12,13 L9,14 Z" fill="#fff"/></svg><i></i></div>

</body></html>
